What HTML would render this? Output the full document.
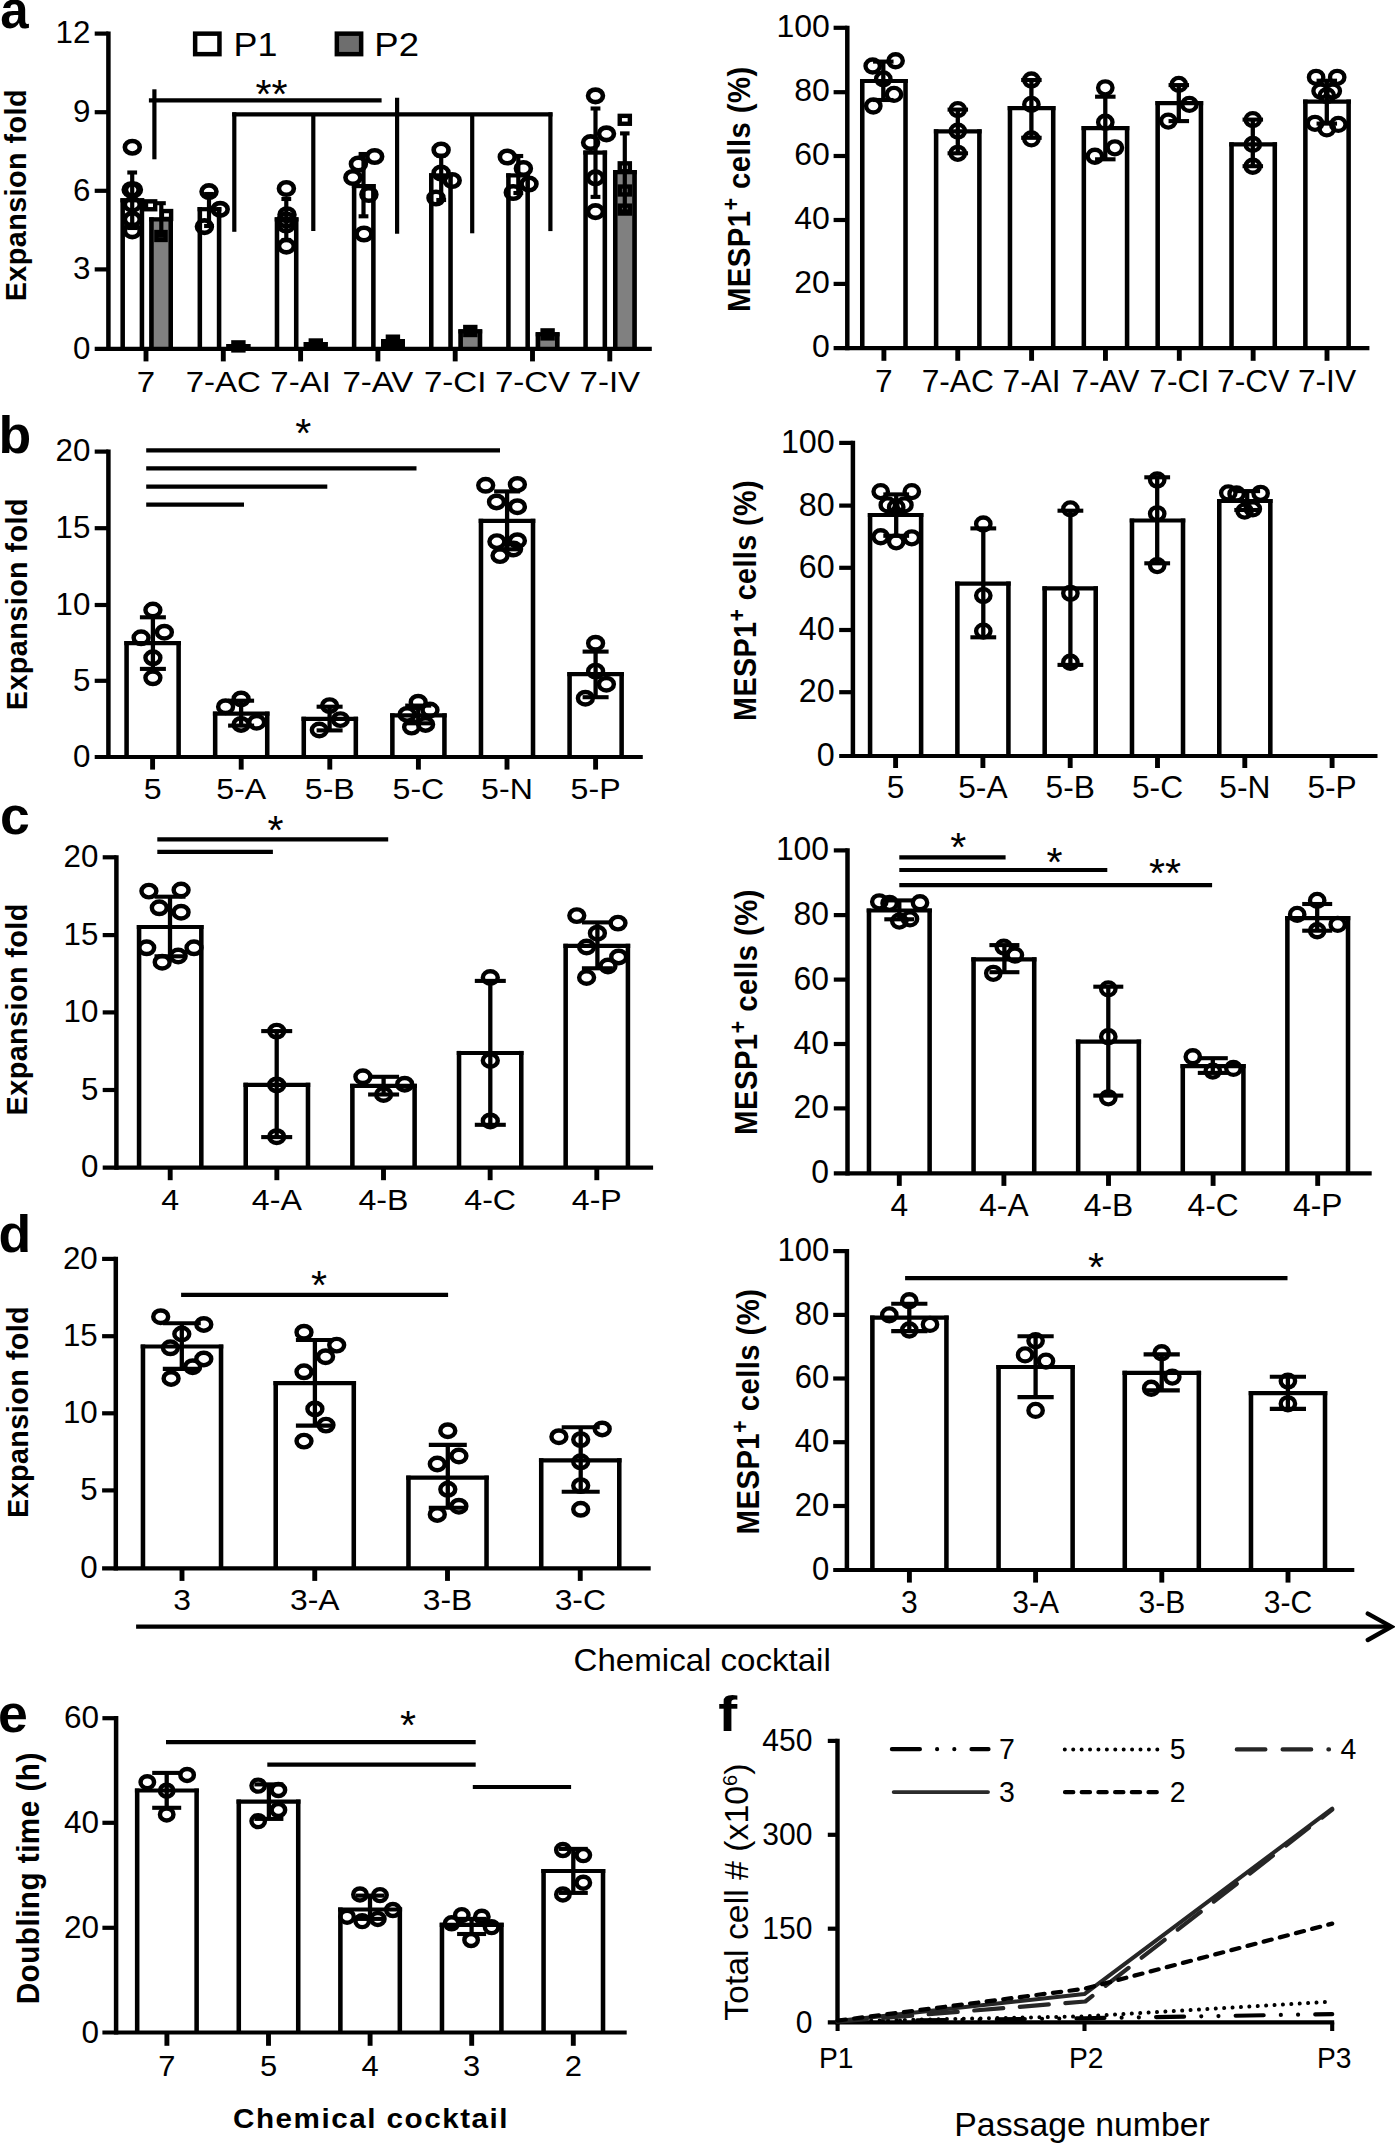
<!DOCTYPE html>
<html><head><meta charset="utf-8"><title>Figure</title>
<style>
html,body{margin:0;padding:0;background:#fff;}
body{width:1395px;height:2144px;overflow:hidden;}
svg{display:block;}
svg text{font-family:"Liberation Sans",sans-serif;fill:#000;}
</style></head><body>
<svg width="1395" height="2144" viewBox="0 0 1395 2144">
<rect x="0" y="0" width="1395" height="2144" fill="#fff"/>
<rect x="120.4" y="198.2" width="23.8" height="150.6" fill="#fff"/>
<line x1="122.68" y1="198.2" x2="122.68" y2="348.8" stroke="#000" stroke-width="4.55" stroke-linecap="butt" />
<line x1="141.93" y1="198.2" x2="141.93" y2="348.8" stroke="#000" stroke-width="4.55" stroke-linecap="butt" />
<line x1="120.4" y1="200.3" x2="144.2" y2="200.3" stroke="#000" stroke-width="4.2" stroke-linecap="butt" />
<rect x="197.55" y="207.1" width="23.8" height="141.7" fill="#fff"/>
<line x1="199.83" y1="207.1" x2="199.83" y2="348.8" stroke="#000" stroke-width="4.55" stroke-linecap="butt" />
<line x1="219.08" y1="207.1" x2="219.08" y2="348.8" stroke="#000" stroke-width="4.55" stroke-linecap="butt" />
<line x1="197.55" y1="209.2" x2="221.35" y2="209.2" stroke="#000" stroke-width="4.2" stroke-linecap="butt" />
<rect x="274.7" y="217.3" width="23.8" height="131.5" fill="#fff"/>
<line x1="276.98" y1="217.3" x2="276.98" y2="348.8" stroke="#000" stroke-width="4.55" stroke-linecap="butt" />
<line x1="296.23" y1="217.3" x2="296.23" y2="348.8" stroke="#000" stroke-width="4.55" stroke-linecap="butt" />
<line x1="274.7" y1="219.4" x2="298.5" y2="219.4" stroke="#000" stroke-width="4.2" stroke-linecap="butt" />
<rect x="351.85" y="184" width="23.8" height="164.8" fill="#fff"/>
<line x1="354.12" y1="184" x2="354.12" y2="348.8" stroke="#000" stroke-width="4.55" stroke-linecap="butt" />
<line x1="373.38" y1="184" x2="373.38" y2="348.8" stroke="#000" stroke-width="4.55" stroke-linecap="butt" />
<line x1="351.85" y1="186.1" x2="375.65" y2="186.1" stroke="#000" stroke-width="4.2" stroke-linecap="butt" />
<rect x="429" y="173.3" width="23.8" height="175.5" fill="#fff"/>
<line x1="431.27" y1="173.3" x2="431.27" y2="348.8" stroke="#000" stroke-width="4.55" stroke-linecap="butt" />
<line x1="450.53" y1="173.3" x2="450.53" y2="348.8" stroke="#000" stroke-width="4.55" stroke-linecap="butt" />
<line x1="429" y1="175.4" x2="452.8" y2="175.4" stroke="#000" stroke-width="4.2" stroke-linecap="butt" />
<rect x="506.15" y="173.3" width="23.8" height="175.5" fill="#fff"/>
<line x1="508.42" y1="173.3" x2="508.42" y2="348.8" stroke="#000" stroke-width="4.55" stroke-linecap="butt" />
<line x1="527.67" y1="173.3" x2="527.67" y2="348.8" stroke="#000" stroke-width="4.55" stroke-linecap="butt" />
<line x1="506.15" y1="175.4" x2="529.95" y2="175.4" stroke="#000" stroke-width="4.2" stroke-linecap="butt" />
<rect x="583.3" y="150.5" width="23.8" height="198.3" fill="#fff"/>
<line x1="585.58" y1="150.5" x2="585.58" y2="348.8" stroke="#000" stroke-width="4.55" stroke-linecap="butt" />
<line x1="604.83" y1="150.5" x2="604.83" y2="348.8" stroke="#000" stroke-width="4.55" stroke-linecap="butt" />
<line x1="583.3" y1="152.6" x2="607.1" y2="152.6" stroke="#000" stroke-width="4.2" stroke-linecap="butt" />
<rect x="149.2" y="217.3" width="23.8" height="131.5" fill="#808080"/>
<line x1="151.47" y1="217.3" x2="151.47" y2="348.8" stroke="#000" stroke-width="4.55" stroke-linecap="butt" />
<line x1="170.72" y1="217.3" x2="170.72" y2="348.8" stroke="#000" stroke-width="4.55" stroke-linecap="butt" />
<line x1="149.2" y1="219.4" x2="173" y2="219.4" stroke="#000" stroke-width="4.2" stroke-linecap="butt" />
<rect x="226.5" y="344" width="23.8" height="4.8" fill="#000"/>
<line x1="228.78" y1="344" x2="228.78" y2="348.8" stroke="#000" stroke-width="4.55" stroke-linecap="butt" />
<line x1="248.03" y1="344" x2="248.03" y2="348.8" stroke="#000" stroke-width="4.55" stroke-linecap="butt" />
<line x1="226.5" y1="346.1" x2="250.3" y2="346.1" stroke="#000" stroke-width="4.2" stroke-linecap="butt" />
<rect x="303.8" y="342" width="23.8" height="6.8" fill="#000"/>
<line x1="306.07" y1="342" x2="306.07" y2="348.8" stroke="#000" stroke-width="4.55" stroke-linecap="butt" />
<line x1="325.32" y1="342" x2="325.32" y2="348.8" stroke="#000" stroke-width="4.55" stroke-linecap="butt" />
<line x1="303.8" y1="344.1" x2="327.6" y2="344.1" stroke="#000" stroke-width="4.2" stroke-linecap="butt" />
<rect x="381.1" y="339" width="23.8" height="9.8" fill="#000"/>
<line x1="383.37" y1="339" x2="383.37" y2="348.8" stroke="#000" stroke-width="4.55" stroke-linecap="butt" />
<line x1="402.62" y1="339" x2="402.62" y2="348.8" stroke="#000" stroke-width="4.55" stroke-linecap="butt" />
<line x1="381.1" y1="341.1" x2="404.9" y2="341.1" stroke="#000" stroke-width="4.2" stroke-linecap="butt" />
<rect x="458.4" y="329.3" width="23.8" height="19.5" fill="#808080"/>
<line x1="460.67" y1="329.3" x2="460.67" y2="348.8" stroke="#000" stroke-width="4.55" stroke-linecap="butt" />
<line x1="479.93" y1="329.3" x2="479.93" y2="348.8" stroke="#000" stroke-width="4.55" stroke-linecap="butt" />
<line x1="458.4" y1="331.4" x2="482.2" y2="331.4" stroke="#000" stroke-width="4.2" stroke-linecap="butt" />
<rect x="535.7" y="332.2" width="23.8" height="16.6" fill="#808080"/>
<line x1="537.98" y1="332.2" x2="537.98" y2="348.8" stroke="#000" stroke-width="4.55" stroke-linecap="butt" />
<line x1="557.23" y1="332.2" x2="557.23" y2="348.8" stroke="#000" stroke-width="4.55" stroke-linecap="butt" />
<line x1="535.7" y1="334.3" x2="559.5" y2="334.3" stroke="#000" stroke-width="4.2" stroke-linecap="butt" />
<rect x="613" y="170.1" width="23.8" height="178.7" fill="#808080"/>
<line x1="615.27" y1="170.1" x2="615.27" y2="348.8" stroke="#000" stroke-width="4.55" stroke-linecap="butt" />
<line x1="634.52" y1="170.1" x2="634.52" y2="348.8" stroke="#000" stroke-width="4.55" stroke-linecap="butt" />
<line x1="613" y1="172.2" x2="636.8" y2="172.2" stroke="#000" stroke-width="4.2" stroke-linecap="butt" />
<rect x="231.2" y="340.2" width="14.4" height="12.4" fill="#000"/>
<rect x="308.6" y="338.3" width="14.4" height="12.4" fill="#000"/>
<rect x="385.7" y="334.5" width="14.4" height="12.4" fill="#000"/>
<rect x="463.1" y="324.8" width="14.4" height="12.4" fill="#000"/>
<rect x="540.4" y="328.2" width="14.4" height="12.4" fill="#000"/>
<line x1="132.2" y1="172.5" x2="132.2" y2="228" stroke="#000" stroke-width="4.2" stroke-linecap="butt" />
<line x1="127.3" y1="172.5" x2="137.1" y2="172.5" stroke="#000" stroke-width="4.1" stroke-linecap="butt" />
<line x1="127.3" y1="228" x2="137.1" y2="228" stroke="#000" stroke-width="4.1" stroke-linecap="butt" />
<line x1="209" y1="194" x2="209" y2="226" stroke="#000" stroke-width="4.2" stroke-linecap="butt" />
<line x1="204.1" y1="194" x2="213.9" y2="194" stroke="#000" stroke-width="4.1" stroke-linecap="butt" />
<line x1="204.1" y1="226" x2="213.9" y2="226" stroke="#000" stroke-width="4.1" stroke-linecap="butt" />
<line x1="286.3" y1="199" x2="286.3" y2="240" stroke="#000" stroke-width="4.2" stroke-linecap="butt" />
<line x1="281.4" y1="199" x2="291.2" y2="199" stroke="#000" stroke-width="4.1" stroke-linecap="butt" />
<line x1="281.4" y1="240" x2="291.2" y2="240" stroke="#000" stroke-width="4.1" stroke-linecap="butt" />
<line x1="363.5" y1="154" x2="363.5" y2="216.3" stroke="#000" stroke-width="4.2" stroke-linecap="butt" />
<line x1="358.6" y1="154" x2="368.4" y2="154" stroke="#000" stroke-width="4.1" stroke-linecap="butt" />
<line x1="358.6" y1="216.3" x2="368.4" y2="216.3" stroke="#000" stroke-width="4.1" stroke-linecap="butt" />
<line x1="441.2" y1="155.6" x2="441.2" y2="200" stroke="#000" stroke-width="4.2" stroke-linecap="butt" />
<line x1="436.3" y1="155.6" x2="446.1" y2="155.6" stroke="#000" stroke-width="4.1" stroke-linecap="butt" />
<line x1="436.3" y1="200" x2="446.1" y2="200" stroke="#000" stroke-width="4.1" stroke-linecap="butt" />
<line x1="518.3" y1="156" x2="518.3" y2="193" stroke="#000" stroke-width="4.2" stroke-linecap="butt" />
<line x1="513.4" y1="156" x2="523.2" y2="156" stroke="#000" stroke-width="4.1" stroke-linecap="butt" />
<line x1="513.4" y1="193" x2="523.2" y2="193" stroke="#000" stroke-width="4.1" stroke-linecap="butt" />
<line x1="595.5" y1="108.5" x2="595.5" y2="196.9" stroke="#000" stroke-width="4.2" stroke-linecap="butt" />
<line x1="590.6" y1="108.5" x2="600.4" y2="108.5" stroke="#000" stroke-width="4.1" stroke-linecap="butt" />
<line x1="590.6" y1="196.9" x2="600.4" y2="196.9" stroke="#000" stroke-width="4.1" stroke-linecap="butt" />
<line x1="161.3" y1="203.2" x2="161.3" y2="235.8" stroke="#000" stroke-width="4.2" stroke-linecap="butt" />
<line x1="156.8" y1="203.2" x2="165.8" y2="203.2" stroke="#000" stroke-width="4.1" stroke-linecap="butt" />
<line x1="156.8" y1="235.8" x2="165.8" y2="235.8" stroke="#000" stroke-width="4.1" stroke-linecap="butt" />
<line x1="624.8" y1="133.4" x2="624.8" y2="211.4" stroke="#000" stroke-width="4.2" stroke-linecap="butt" />
<line x1="620.05" y1="133.4" x2="629.55" y2="133.4" stroke="#000" stroke-width="4.1" stroke-linecap="butt" />
<line x1="620.05" y1="211.4" x2="629.55" y2="211.4" stroke="#000" stroke-width="4.1" stroke-linecap="butt" />
<ellipse cx="132.3" cy="147.2" rx="7.45" ry="6.25" fill="none" stroke="#000" stroke-width="4.65"/>
<ellipse cx="131.2" cy="189.8" rx="7.45" ry="6.25" fill="none" stroke="#000" stroke-width="4.65"/>
<ellipse cx="133.4" cy="189.8" rx="7.45" ry="6.25" fill="none" stroke="#000" stroke-width="4.65"/>
<ellipse cx="132.3" cy="204.4" rx="7.45" ry="6.25" fill="none" stroke="#000" stroke-width="4.65"/>
<ellipse cx="132.3" cy="219.3" rx="7.45" ry="6.25" fill="none" stroke="#000" stroke-width="4.65"/>
<ellipse cx="132.3" cy="230.8" rx="7.45" ry="6.25" fill="none" stroke="#000" stroke-width="4.65"/>
<ellipse cx="209" cy="191.6" rx="7.45" ry="6.25" fill="none" stroke="#000" stroke-width="4.65"/>
<ellipse cx="220.2" cy="209.3" rx="7.45" ry="6.25" fill="none" stroke="#000" stroke-width="4.65"/>
<ellipse cx="204.4" cy="226.6" rx="7.45" ry="6.25" fill="none" stroke="#000" stroke-width="4.65"/>
<ellipse cx="286.4" cy="188.5" rx="7.45" ry="6.25" fill="none" stroke="#000" stroke-width="4.65"/>
<ellipse cx="287" cy="214.7" rx="7.45" ry="6.25" fill="none" stroke="#000" stroke-width="4.65"/>
<ellipse cx="286.4" cy="220" rx="7.45" ry="6.25" fill="none" stroke="#000" stroke-width="4.65"/>
<ellipse cx="286.2" cy="225" rx="7.45" ry="6.25" fill="none" stroke="#000" stroke-width="4.65"/>
<ellipse cx="286.4" cy="246.1" rx="7.45" ry="6.25" fill="none" stroke="#000" stroke-width="4.65"/>
<ellipse cx="374.7" cy="156.5" rx="7.45" ry="6.25" fill="none" stroke="#000" stroke-width="4.65"/>
<ellipse cx="358.4" cy="164" rx="7.45" ry="6.25" fill="none" stroke="#000" stroke-width="4.65"/>
<ellipse cx="352.9" cy="177.5" rx="7.45" ry="6.25" fill="none" stroke="#000" stroke-width="4.65"/>
<ellipse cx="368.9" cy="194.5" rx="7.45" ry="6.25" fill="none" stroke="#000" stroke-width="4.65"/>
<ellipse cx="364" cy="234" rx="7.45" ry="6.25" fill="none" stroke="#000" stroke-width="4.65"/>
<ellipse cx="441.1" cy="150" rx="7.45" ry="6.25" fill="none" stroke="#000" stroke-width="4.65"/>
<ellipse cx="441.1" cy="173" rx="7.45" ry="6.25" fill="none" stroke="#000" stroke-width="4.65"/>
<ellipse cx="452.2" cy="180.5" rx="7.45" ry="6.25" fill="none" stroke="#000" stroke-width="4.65"/>
<ellipse cx="436" cy="198" rx="7.45" ry="6.25" fill="none" stroke="#000" stroke-width="4.65"/>
<ellipse cx="507.3" cy="157" rx="7.45" ry="6.25" fill="none" stroke="#000" stroke-width="4.65"/>
<ellipse cx="523.4" cy="168.5" rx="7.45" ry="6.25" fill="none" stroke="#000" stroke-width="4.65"/>
<ellipse cx="529" cy="184" rx="7.45" ry="6.25" fill="none" stroke="#000" stroke-width="4.65"/>
<ellipse cx="513.3" cy="192.5" rx="7.45" ry="6.25" fill="none" stroke="#000" stroke-width="4.65"/>
<ellipse cx="595.5" cy="95.8" rx="7.45" ry="6.25" fill="none" stroke="#000" stroke-width="4.65"/>
<ellipse cx="606.5" cy="133.8" rx="7.45" ry="6.25" fill="none" stroke="#000" stroke-width="4.65"/>
<ellipse cx="590.6" cy="142.6" rx="7.45" ry="6.25" fill="none" stroke="#000" stroke-width="4.65"/>
<ellipse cx="595.5" cy="177.9" rx="7.45" ry="6.25" fill="none" stroke="#000" stroke-width="4.65"/>
<ellipse cx="595.5" cy="211.6" rx="7.45" ry="6.25" fill="none" stroke="#000" stroke-width="4.65"/>
<rect x="146" y="201.35" width="9.2" height="7.9" fill="none" stroke="#000" stroke-width="4.4"/>
<rect x="161.9" y="211.05" width="9.2" height="7.9" fill="none" stroke="#000" stroke-width="4.4"/>
<rect x="156.4" y="232.05" width="9.2" height="7.9" fill="none" stroke="#000" stroke-width="4.4"/>
<rect x="619.75" y="115.85" width="10.1" height="7.9" fill="none" stroke="#000" stroke-width="4.4"/>
<rect x="619.75" y="163.35" width="10.1" height="7.9" fill="none" stroke="#000" stroke-width="4.4"/>
<rect x="619.75" y="186.55" width="10.1" height="7.9" fill="none" stroke="#000" stroke-width="4.4"/>
<rect x="619.75" y="205.65" width="10.1" height="7.9" fill="none" stroke="#000" stroke-width="4.4"/>
<line x1="148.9" y1="100.4" x2="381.6" y2="100.4" stroke="#000" stroke-width="4.2" stroke-linecap="butt" />
<line x1="154.4" y1="89.3" x2="154.4" y2="159.3" stroke="#000" stroke-width="4.2" stroke-linecap="butt" />
<line x1="232.2" y1="114.4" x2="552.5" y2="114.4" stroke="#000" stroke-width="4.2" stroke-linecap="butt" />
<line x1="234.3" y1="112.3" x2="234.3" y2="231.8" stroke="#000" stroke-width="4.2" stroke-linecap="butt" />
<line x1="313.3" y1="114" x2="313.3" y2="231" stroke="#000" stroke-width="4.2" stroke-linecap="butt" />
<line x1="397.1" y1="97.8" x2="397.1" y2="233.8" stroke="#000" stroke-width="4.2" stroke-linecap="butt" />
<line x1="472.2" y1="114" x2="472.2" y2="233.3" stroke="#000" stroke-width="4.2" stroke-linecap="butt" />
<line x1="550.4" y1="112.3" x2="550.4" y2="231.1" stroke="#000" stroke-width="4.2" stroke-linecap="butt" />
<text transform="translate(271.6,108.4) scale(1.03,1.0)" font-size="40" text-anchor="middle" font-weight="normal">**</text>
<line x1="108.4" y1="31.5" x2="108.4" y2="350.9" stroke="#000" stroke-width="4.5" stroke-linecap="butt" />
<line x1="94.7" y1="348.8" x2="651.8" y2="348.8" stroke="#000" stroke-width="4.2" stroke-linecap="butt" />
<line x1="94.7" y1="33.6" x2="108.4" y2="33.6" stroke="#000" stroke-width="4.2" stroke-linecap="butt" />
<text transform="translate(90.3,43.41)" font-size="31.3" text-anchor="end" font-weight="normal">12</text>
<line x1="94.7" y1="112.2" x2="108.4" y2="112.2" stroke="#000" stroke-width="4.2" stroke-linecap="butt" />
<text transform="translate(90.3,122.01)" font-size="31.3" text-anchor="end" font-weight="normal">9</text>
<line x1="94.7" y1="190.8" x2="108.4" y2="190.8" stroke="#000" stroke-width="4.2" stroke-linecap="butt" />
<text transform="translate(90.3,200.61)" font-size="31.3" text-anchor="end" font-weight="normal">6</text>
<line x1="94.7" y1="269.4" x2="108.4" y2="269.4" stroke="#000" stroke-width="4.2" stroke-linecap="butt" />
<text transform="translate(90.3,279.21)" font-size="31.3" text-anchor="end" font-weight="normal">3</text>
<text transform="translate(90.3,358.61)" font-size="31.3" text-anchor="end" font-weight="normal">0</text>
<line x1="146" y1="348.8" x2="146" y2="361.4" stroke="#000" stroke-width="4.9" stroke-linecap="butt" />
<text transform="translate(146,391.7) scale(1.09,1.0)" font-size="30.3" text-anchor="middle" font-weight="normal">7</text>
<line x1="223.3" y1="348.8" x2="223.3" y2="361.4" stroke="#000" stroke-width="4.9" stroke-linecap="butt" />
<text transform="translate(223.3,391.7) scale(1.09,1.0)" font-size="30.3" text-anchor="middle" font-weight="normal">7-AC</text>
<line x1="300.6" y1="348.8" x2="300.6" y2="361.4" stroke="#000" stroke-width="4.9" stroke-linecap="butt" />
<text transform="translate(300.6,391.7) scale(1.09,1.0)" font-size="30.3" text-anchor="middle" font-weight="normal">7-AI</text>
<line x1="377.9" y1="348.8" x2="377.9" y2="361.4" stroke="#000" stroke-width="4.9" stroke-linecap="butt" />
<text transform="translate(377.9,391.7) scale(1.09,1.0)" font-size="30.3" text-anchor="middle" font-weight="normal">7-AV</text>
<line x1="455.2" y1="348.8" x2="455.2" y2="361.4" stroke="#000" stroke-width="4.9" stroke-linecap="butt" />
<text transform="translate(455.2,391.7) scale(1.09,1.0)" font-size="30.3" text-anchor="middle" font-weight="normal">7-CI</text>
<line x1="532.5" y1="348.8" x2="532.5" y2="361.4" stroke="#000" stroke-width="4.9" stroke-linecap="butt" />
<text transform="translate(532.5,391.7) scale(1.09,1.0)" font-size="30.3" text-anchor="middle" font-weight="normal">7-CV</text>
<line x1="609.8" y1="348.8" x2="609.8" y2="361.4" stroke="#000" stroke-width="4.9" stroke-linecap="butt" />
<text transform="translate(609.8,391.7) scale(1.09,1.0)" font-size="30.3" text-anchor="middle" font-weight="normal">7-IV</text>
<rect x="195.15" y="33.65" width="24.3" height="20.5" fill="#fff" stroke="#000" stroke-width="4.5"/>
<rect x="336.85" y="33.65" width="24.3" height="20.5" fill="#6e6e6e" stroke="#000" stroke-width="4.5"/>
<text transform="translate(233.5,56.2) scale(1.07,1.0)" font-size="33.5" text-anchor="start" font-weight="normal">P1</text>
<text transform="translate(374.3,56.2) scale(1.09,1.0)" font-size="33.5" text-anchor="start" font-weight="normal">P2</text>
<text transform="translate(25.9,195.2) rotate(-90) scale(1.0,1.02)" font-size="28.75" text-anchor="middle" font-weight="bold" letter-spacing="0.45">Expansion fold</text>
<text transform="translate(0.2,28.2)" font-size="51" text-anchor="start" font-weight="bold">a</text>
<rect x="860" y="78.9" width="47.8" height="269.3" fill="#fff"/>
<line x1="862.27" y1="78.9" x2="862.27" y2="348.2" stroke="#000" stroke-width="4.55" stroke-linecap="butt" />
<line x1="905.52" y1="78.9" x2="905.52" y2="348.2" stroke="#000" stroke-width="4.55" stroke-linecap="butt" />
<line x1="860" y1="81" x2="907.8" y2="81" stroke="#000" stroke-width="4.2" stroke-linecap="butt" />
<rect x="933.85" y="129.3" width="47.8" height="218.9" fill="#fff"/>
<line x1="936.12" y1="129.3" x2="936.12" y2="348.2" stroke="#000" stroke-width="4.55" stroke-linecap="butt" />
<line x1="979.38" y1="129.3" x2="979.38" y2="348.2" stroke="#000" stroke-width="4.55" stroke-linecap="butt" />
<line x1="933.85" y1="131.4" x2="981.65" y2="131.4" stroke="#000" stroke-width="4.2" stroke-linecap="butt" />
<rect x="1007.7" y="106" width="47.8" height="242.2" fill="#fff"/>
<line x1="1009.97" y1="106" x2="1009.97" y2="348.2" stroke="#000" stroke-width="4.55" stroke-linecap="butt" />
<line x1="1053.22" y1="106" x2="1053.22" y2="348.2" stroke="#000" stroke-width="4.55" stroke-linecap="butt" />
<line x1="1007.7" y1="108.1" x2="1055.5" y2="108.1" stroke="#000" stroke-width="4.2" stroke-linecap="butt" />
<rect x="1081.55" y="126" width="47.8" height="222.2" fill="#fff"/>
<line x1="1083.83" y1="126" x2="1083.83" y2="348.2" stroke="#000" stroke-width="4.55" stroke-linecap="butt" />
<line x1="1127.08" y1="126" x2="1127.08" y2="348.2" stroke="#000" stroke-width="4.55" stroke-linecap="butt" />
<line x1="1081.55" y1="128.1" x2="1129.35" y2="128.1" stroke="#000" stroke-width="4.2" stroke-linecap="butt" />
<rect x="1155.4" y="101.1" width="47.8" height="247.1" fill="#fff"/>
<line x1="1157.67" y1="101.1" x2="1157.67" y2="348.2" stroke="#000" stroke-width="4.55" stroke-linecap="butt" />
<line x1="1200.92" y1="101.1" x2="1200.92" y2="348.2" stroke="#000" stroke-width="4.55" stroke-linecap="butt" />
<line x1="1155.4" y1="103.2" x2="1203.2" y2="103.2" stroke="#000" stroke-width="4.2" stroke-linecap="butt" />
<rect x="1229.25" y="142.2" width="47.8" height="206" fill="#fff"/>
<line x1="1231.53" y1="142.2" x2="1231.53" y2="348.2" stroke="#000" stroke-width="4.55" stroke-linecap="butt" />
<line x1="1274.78" y1="142.2" x2="1274.78" y2="348.2" stroke="#000" stroke-width="4.55" stroke-linecap="butt" />
<line x1="1229.25" y1="144.3" x2="1277.05" y2="144.3" stroke="#000" stroke-width="4.2" stroke-linecap="butt" />
<rect x="1303.1" y="99.6" width="47.8" height="248.6" fill="#fff"/>
<line x1="1305.38" y1="99.6" x2="1305.38" y2="348.2" stroke="#000" stroke-width="4.55" stroke-linecap="butt" />
<line x1="1348.62" y1="99.6" x2="1348.62" y2="348.2" stroke="#000" stroke-width="4.55" stroke-linecap="butt" />
<line x1="1303.1" y1="101.7" x2="1350.9" y2="101.7" stroke="#000" stroke-width="4.2" stroke-linecap="butt" />
<line x1="883.3" y1="61.6" x2="883.3" y2="100" stroke="#000" stroke-width="4.3" stroke-linecap="butt" />
<line x1="873.05" y1="61.6" x2="893.55" y2="61.6" stroke="#000" stroke-width="4.1" stroke-linecap="butt" />
<line x1="873.05" y1="100" x2="893.55" y2="100" stroke="#000" stroke-width="4.1" stroke-linecap="butt" />
<line x1="957.8" y1="109.6" x2="957.8" y2="153.3" stroke="#000" stroke-width="4.3" stroke-linecap="butt" />
<line x1="947.55" y1="109.6" x2="968.05" y2="109.6" stroke="#000" stroke-width="4.1" stroke-linecap="butt" />
<line x1="947.55" y1="153.3" x2="968.05" y2="153.3" stroke="#000" stroke-width="4.1" stroke-linecap="butt" />
<line x1="1031.4" y1="80" x2="1031.4" y2="137.8" stroke="#000" stroke-width="4.3" stroke-linecap="butt" />
<line x1="1021.15" y1="80" x2="1041.65" y2="80" stroke="#000" stroke-width="4.1" stroke-linecap="butt" />
<line x1="1021.15" y1="137.8" x2="1041.65" y2="137.8" stroke="#000" stroke-width="4.1" stroke-linecap="butt" />
<line x1="1105.3" y1="96.7" x2="1105.3" y2="159.3" stroke="#000" stroke-width="4.3" stroke-linecap="butt" />
<line x1="1095.05" y1="96.7" x2="1115.55" y2="96.7" stroke="#000" stroke-width="4.1" stroke-linecap="butt" />
<line x1="1095.05" y1="159.3" x2="1115.55" y2="159.3" stroke="#000" stroke-width="4.1" stroke-linecap="butt" />
<line x1="1178.8" y1="85.1" x2="1178.8" y2="121.1" stroke="#000" stroke-width="4.3" stroke-linecap="butt" />
<line x1="1168.55" y1="85.1" x2="1189.05" y2="85.1" stroke="#000" stroke-width="4.1" stroke-linecap="butt" />
<line x1="1168.55" y1="121.1" x2="1189.05" y2="121.1" stroke="#000" stroke-width="4.1" stroke-linecap="butt" />
<line x1="1252.8" y1="119.6" x2="1252.8" y2="166.2" stroke="#000" stroke-width="4.3" stroke-linecap="butt" />
<line x1="1242.55" y1="119.6" x2="1263.05" y2="119.6" stroke="#000" stroke-width="4.1" stroke-linecap="butt" />
<line x1="1242.55" y1="166.2" x2="1263.05" y2="166.2" stroke="#000" stroke-width="4.1" stroke-linecap="butt" />
<line x1="1326.8" y1="80.7" x2="1326.8" y2="123.6" stroke="#000" stroke-width="4.3" stroke-linecap="butt" />
<line x1="1316.55" y1="80.7" x2="1337.05" y2="80.7" stroke="#000" stroke-width="4.1" stroke-linecap="butt" />
<line x1="1316.55" y1="123.6" x2="1337.05" y2="123.6" stroke="#000" stroke-width="4.1" stroke-linecap="butt" />
<ellipse cx="872.7" cy="66" rx="7.2" ry="6.5" fill="none" stroke="#000" stroke-width="4.35"/>
<ellipse cx="895.6" cy="60.7" rx="7.2" ry="6.5" fill="none" stroke="#000" stroke-width="4.35"/>
<ellipse cx="883.3" cy="78.9" rx="7.2" ry="6.5" fill="none" stroke="#000" stroke-width="4.35"/>
<ellipse cx="894" cy="94.4" rx="7.2" ry="6.5" fill="none" stroke="#000" stroke-width="4.35"/>
<ellipse cx="873.3" cy="106" rx="7.2" ry="6.5" fill="none" stroke="#000" stroke-width="4.35"/>
<ellipse cx="957.8" cy="109.6" rx="7.2" ry="6.5" fill="none" stroke="#000" stroke-width="4.35"/>
<ellipse cx="957.8" cy="131.1" rx="7.2" ry="6.5" fill="none" stroke="#000" stroke-width="4.35"/>
<ellipse cx="957.8" cy="153.3" rx="7.2" ry="6.5" fill="none" stroke="#000" stroke-width="4.35"/>
<ellipse cx="1031.4" cy="80" rx="7.2" ry="6.5" fill="none" stroke="#000" stroke-width="4.35"/>
<ellipse cx="1031.4" cy="104.4" rx="7.2" ry="6.5" fill="none" stroke="#000" stroke-width="4.35"/>
<ellipse cx="1031.4" cy="138.9" rx="7.2" ry="6.5" fill="none" stroke="#000" stroke-width="4.35"/>
<ellipse cx="1105.3" cy="87.8" rx="7.2" ry="6.5" fill="none" stroke="#000" stroke-width="4.35"/>
<ellipse cx="1105.3" cy="122.2" rx="7.2" ry="6.5" fill="none" stroke="#000" stroke-width="4.35"/>
<ellipse cx="1114.9" cy="147.8" rx="7.2" ry="6.5" fill="none" stroke="#000" stroke-width="4.35"/>
<ellipse cx="1094.9" cy="156.2" rx="7.2" ry="6.5" fill="none" stroke="#000" stroke-width="4.35"/>
<ellipse cx="1178.8" cy="84.4" rx="7.2" ry="6.5" fill="none" stroke="#000" stroke-width="4.35"/>
<ellipse cx="1189.4" cy="104.4" rx="7.2" ry="6.5" fill="none" stroke="#000" stroke-width="4.35"/>
<ellipse cx="1168.3" cy="121.1" rx="7.2" ry="6.5" fill="none" stroke="#000" stroke-width="4.35"/>
<ellipse cx="1252.8" cy="119.6" rx="7.2" ry="6.5" fill="none" stroke="#000" stroke-width="4.35"/>
<ellipse cx="1252.8" cy="144.4" rx="7.2" ry="6.5" fill="none" stroke="#000" stroke-width="4.35"/>
<ellipse cx="1252.8" cy="166.2" rx="7.2" ry="6.5" fill="none" stroke="#000" stroke-width="4.35"/>
<ellipse cx="1316.1" cy="77.3" rx="7.2" ry="6.5" fill="none" stroke="#000" stroke-width="4.35"/>
<ellipse cx="1337.2" cy="77.3" rx="7.2" ry="6.5" fill="none" stroke="#000" stroke-width="4.35"/>
<ellipse cx="1320.6" cy="91.1" rx="7.2" ry="6.5" fill="none" stroke="#000" stroke-width="4.35"/>
<ellipse cx="1332.8" cy="91.1" rx="7.2" ry="6.5" fill="none" stroke="#000" stroke-width="4.35"/>
<ellipse cx="1326.8" cy="95.6" rx="7.2" ry="6.5" fill="none" stroke="#000" stroke-width="4.35"/>
<ellipse cx="1315" cy="123.3" rx="7.2" ry="6.5" fill="none" stroke="#000" stroke-width="4.35"/>
<ellipse cx="1326.8" cy="128.9" rx="7.2" ry="6.5" fill="none" stroke="#000" stroke-width="4.35"/>
<ellipse cx="1338.3" cy="124.4" rx="7.2" ry="6.5" fill="none" stroke="#000" stroke-width="4.35"/>
<line x1="847.3" y1="25.7" x2="847.3" y2="350.3" stroke="#000" stroke-width="4.5" stroke-linecap="butt" />
<line x1="833.6" y1="348.2" x2="1369.4" y2="348.2" stroke="#000" stroke-width="4.2" stroke-linecap="butt" />
<line x1="833.6" y1="27.8" x2="847.3" y2="27.8" stroke="#000" stroke-width="4.2" stroke-linecap="butt" />
<text transform="translate(829.8,37.06)" font-size="32" text-anchor="end" font-weight="normal">100</text>
<line x1="833.6" y1="92.2" x2="847.3" y2="92.2" stroke="#000" stroke-width="4.2" stroke-linecap="butt" />
<text transform="translate(829.8,101.46)" font-size="32" text-anchor="end" font-weight="normal">80</text>
<line x1="833.6" y1="156" x2="847.3" y2="156" stroke="#000" stroke-width="4.2" stroke-linecap="butt" />
<text transform="translate(829.8,165.26)" font-size="32" text-anchor="end" font-weight="normal">60</text>
<line x1="833.6" y1="220" x2="847.3" y2="220" stroke="#000" stroke-width="4.2" stroke-linecap="butt" />
<text transform="translate(829.8,229.26)" font-size="32" text-anchor="end" font-weight="normal">40</text>
<line x1="833.6" y1="283.9" x2="847.3" y2="283.9" stroke="#000" stroke-width="4.2" stroke-linecap="butt" />
<text transform="translate(829.8,293.16)" font-size="32" text-anchor="end" font-weight="normal">20</text>
<text transform="translate(829.8,357.46)" font-size="32" text-anchor="end" font-weight="normal">0</text>
<line x1="883.9" y1="348.2" x2="883.9" y2="360.8" stroke="#000" stroke-width="4.9" stroke-linecap="butt" />
<text transform="translate(883.9,392.3) scale(1.03,1.0)" font-size="30.8" text-anchor="middle" font-weight="normal">7</text>
<line x1="957.75" y1="348.2" x2="957.75" y2="360.8" stroke="#000" stroke-width="4.9" stroke-linecap="butt" />
<text transform="translate(957.75,392.3) scale(1.03,1.0)" font-size="30.8" text-anchor="middle" font-weight="normal">7-AC</text>
<line x1="1031.6" y1="348.2" x2="1031.6" y2="360.8" stroke="#000" stroke-width="4.9" stroke-linecap="butt" />
<text transform="translate(1031.6,392.3) scale(1.03,1.0)" font-size="30.8" text-anchor="middle" font-weight="normal">7-AI</text>
<line x1="1105.45" y1="348.2" x2="1105.45" y2="360.8" stroke="#000" stroke-width="4.9" stroke-linecap="butt" />
<text transform="translate(1105.45,392.3) scale(1.03,1.0)" font-size="30.8" text-anchor="middle" font-weight="normal">7-AV</text>
<line x1="1179.3" y1="348.2" x2="1179.3" y2="360.8" stroke="#000" stroke-width="4.9" stroke-linecap="butt" />
<text transform="translate(1179.3,392.3) scale(1.03,1.0)" font-size="30.8" text-anchor="middle" font-weight="normal">7-CI</text>
<line x1="1253.15" y1="348.2" x2="1253.15" y2="360.8" stroke="#000" stroke-width="4.9" stroke-linecap="butt" />
<text transform="translate(1253.15,392.3) scale(1.03,1.0)" font-size="30.8" text-anchor="middle" font-weight="normal">7-CV</text>
<line x1="1327" y1="348.2" x2="1327" y2="360.8" stroke="#000" stroke-width="4.9" stroke-linecap="butt" />
<text transform="translate(1327,392.3) scale(1.03,1.0)" font-size="30.8" text-anchor="middle" font-weight="normal">7-IV</text>
<text transform="translate(750.3,189.2) rotate(-90) scale(1.0,1.068)" font-size="29.35" text-anchor="middle" font-weight="bold" letter-spacing="0.4">MESP1<tspan font-size="21.72" dy="-10.57">+</tspan><tspan dy="10.57"> cells (%)</tspan></text>
<rect x="124.3" y="641.1" width="56.6" height="115.9" fill="#fff"/>
<line x1="126.58" y1="641.1" x2="126.58" y2="757" stroke="#000" stroke-width="4.55" stroke-linecap="butt" />
<line x1="178.62" y1="641.1" x2="178.62" y2="757" stroke="#000" stroke-width="4.55" stroke-linecap="butt" />
<line x1="124.3" y1="643.2" x2="180.9" y2="643.2" stroke="#000" stroke-width="4.2" stroke-linecap="butt" />
<rect x="212.9" y="711.6" width="56.6" height="45.4" fill="#fff"/>
<line x1="215.17" y1="711.6" x2="215.17" y2="757" stroke="#000" stroke-width="4.55" stroke-linecap="butt" />
<line x1="267.23" y1="711.6" x2="267.23" y2="757" stroke="#000" stroke-width="4.55" stroke-linecap="butt" />
<line x1="212.9" y1="713.7" x2="269.5" y2="713.7" stroke="#000" stroke-width="4.2" stroke-linecap="butt" />
<rect x="301.5" y="716.7" width="56.6" height="40.3" fill="#fff"/>
<line x1="303.77" y1="716.7" x2="303.77" y2="757" stroke="#000" stroke-width="4.55" stroke-linecap="butt" />
<line x1="355.82" y1="716.7" x2="355.82" y2="757" stroke="#000" stroke-width="4.55" stroke-linecap="butt" />
<line x1="301.5" y1="718.8" x2="358.1" y2="718.8" stroke="#000" stroke-width="4.2" stroke-linecap="butt" />
<rect x="390.1" y="713.3" width="56.6" height="43.7" fill="#fff"/>
<line x1="392.37" y1="713.3" x2="392.37" y2="757" stroke="#000" stroke-width="4.55" stroke-linecap="butt" />
<line x1="444.43" y1="713.3" x2="444.43" y2="757" stroke="#000" stroke-width="4.55" stroke-linecap="butt" />
<line x1="390.1" y1="715.4" x2="446.7" y2="715.4" stroke="#000" stroke-width="4.2" stroke-linecap="butt" />
<rect x="478.7" y="518.7" width="56.6" height="238.3" fill="#fff"/>
<line x1="480.97" y1="518.7" x2="480.97" y2="757" stroke="#000" stroke-width="4.55" stroke-linecap="butt" />
<line x1="533.02" y1="518.7" x2="533.02" y2="757" stroke="#000" stroke-width="4.55" stroke-linecap="butt" />
<line x1="478.7" y1="520.8" x2="535.3" y2="520.8" stroke="#000" stroke-width="4.2" stroke-linecap="butt" />
<rect x="567.3" y="672.1" width="56.6" height="84.9" fill="#fff"/>
<line x1="569.58" y1="672.1" x2="569.58" y2="757" stroke="#000" stroke-width="4.55" stroke-linecap="butt" />
<line x1="621.62" y1="672.1" x2="621.62" y2="757" stroke="#000" stroke-width="4.55" stroke-linecap="butt" />
<line x1="567.3" y1="674.2" x2="623.9" y2="674.2" stroke="#000" stroke-width="4.2" stroke-linecap="butt" />
<line x1="152.9" y1="617.3" x2="152.9" y2="668.9" stroke="#000" stroke-width="4.3" stroke-linecap="butt" />
<line x1="139.9" y1="617.3" x2="165.9" y2="617.3" stroke="#000" stroke-width="4.1" stroke-linecap="butt" />
<line x1="139.9" y1="668.9" x2="165.9" y2="668.9" stroke="#000" stroke-width="4.1" stroke-linecap="butt" />
<line x1="241.1" y1="700.7" x2="241.1" y2="725.6" stroke="#000" stroke-width="4.3" stroke-linecap="butt" />
<line x1="228.1" y1="700.7" x2="254.1" y2="700.7" stroke="#000" stroke-width="4.1" stroke-linecap="butt" />
<line x1="228.1" y1="725.6" x2="254.1" y2="725.6" stroke="#000" stroke-width="4.1" stroke-linecap="butt" />
<line x1="329.6" y1="706.7" x2="329.6" y2="730.4" stroke="#000" stroke-width="4.3" stroke-linecap="butt" />
<line x1="316.6" y1="706.7" x2="342.6" y2="706.7" stroke="#000" stroke-width="4.1" stroke-linecap="butt" />
<line x1="316.6" y1="730.4" x2="342.6" y2="730.4" stroke="#000" stroke-width="4.1" stroke-linecap="butt" />
<line x1="418.2" y1="705.6" x2="418.2" y2="723.3" stroke="#000" stroke-width="4.3" stroke-linecap="butt" />
<line x1="405.2" y1="705.6" x2="431.2" y2="705.6" stroke="#000" stroke-width="4.1" stroke-linecap="butt" />
<line x1="405.2" y1="723.3" x2="431.2" y2="723.3" stroke="#000" stroke-width="4.1" stroke-linecap="butt" />
<line x1="507.1" y1="491.4" x2="507.1" y2="549.3" stroke="#000" stroke-width="4.3" stroke-linecap="butt" />
<line x1="494.1" y1="491.4" x2="520.1" y2="491.4" stroke="#000" stroke-width="4.1" stroke-linecap="butt" />
<line x1="494.1" y1="549.3" x2="520.1" y2="549.3" stroke="#000" stroke-width="4.1" stroke-linecap="butt" />
<line x1="595.6" y1="651.6" x2="595.6" y2="697.2" stroke="#000" stroke-width="4.3" stroke-linecap="butt" />
<line x1="582.6" y1="651.6" x2="608.6" y2="651.6" stroke="#000" stroke-width="4.1" stroke-linecap="butt" />
<line x1="582.6" y1="697.2" x2="608.6" y2="697.2" stroke="#000" stroke-width="4.1" stroke-linecap="butt" />
<ellipse cx="152.9" cy="610" rx="7.45" ry="6.25" fill="none" stroke="#000" stroke-width="4.45"/>
<ellipse cx="164.4" cy="632.2" rx="7.45" ry="6.25" fill="none" stroke="#000" stroke-width="4.45"/>
<ellipse cx="141.1" cy="637.8" rx="7.45" ry="6.25" fill="none" stroke="#000" stroke-width="4.45"/>
<ellipse cx="152.9" cy="657.8" rx="7.45" ry="6.25" fill="none" stroke="#000" stroke-width="4.45"/>
<ellipse cx="152.9" cy="677.8" rx="7.45" ry="6.25" fill="none" stroke="#000" stroke-width="4.45"/>
<ellipse cx="241.1" cy="698.9" rx="7.45" ry="6.25" fill="none" stroke="#000" stroke-width="4.45"/>
<ellipse cx="225.6" cy="706.7" rx="7.45" ry="6.25" fill="none" stroke="#000" stroke-width="4.45"/>
<ellipse cx="241.1" cy="724.4" rx="7.45" ry="6.25" fill="none" stroke="#000" stroke-width="4.45"/>
<ellipse cx="256.7" cy="722.2" rx="7.45" ry="6.25" fill="none" stroke="#000" stroke-width="4.45"/>
<ellipse cx="329.6" cy="705.6" rx="7.45" ry="6.25" fill="none" stroke="#000" stroke-width="4.45"/>
<ellipse cx="340.4" cy="719.6" rx="7.45" ry="6.25" fill="none" stroke="#000" stroke-width="4.45"/>
<ellipse cx="319.3" cy="730" rx="7.45" ry="6.25" fill="none" stroke="#000" stroke-width="4.45"/>
<ellipse cx="418.2" cy="702.2" rx="7.45" ry="6.25" fill="none" stroke="#000" stroke-width="4.45"/>
<ellipse cx="430" cy="710" rx="7.45" ry="6.25" fill="none" stroke="#000" stroke-width="4.45"/>
<ellipse cx="407.1" cy="714.4" rx="7.45" ry="6.25" fill="none" stroke="#000" stroke-width="4.45"/>
<ellipse cx="425.6" cy="724.4" rx="7.45" ry="6.25" fill="none" stroke="#000" stroke-width="4.45"/>
<ellipse cx="411.6" cy="727.1" rx="7.45" ry="6.25" fill="none" stroke="#000" stroke-width="4.45"/>
<ellipse cx="485.7" cy="485.3" rx="7.45" ry="6.25" fill="none" stroke="#000" stroke-width="4.45"/>
<ellipse cx="517.4" cy="484.4" rx="7.45" ry="6.25" fill="none" stroke="#000" stroke-width="4.45"/>
<ellipse cx="496.5" cy="501.9" rx="7.45" ry="6.25" fill="none" stroke="#000" stroke-width="4.45"/>
<ellipse cx="517.4" cy="506.7" rx="7.45" ry="6.25" fill="none" stroke="#000" stroke-width="4.45"/>
<ellipse cx="496.9" cy="541.6" rx="7.45" ry="6.25" fill="none" stroke="#000" stroke-width="4.45"/>
<ellipse cx="517.4" cy="540.7" rx="7.45" ry="6.25" fill="none" stroke="#000" stroke-width="4.45"/>
<ellipse cx="513.6" cy="549" rx="7.45" ry="6.25" fill="none" stroke="#000" stroke-width="4.45"/>
<ellipse cx="500" cy="555.6" rx="7.45" ry="6.25" fill="none" stroke="#000" stroke-width="4.45"/>
<ellipse cx="595.6" cy="643.2" rx="7.45" ry="6.25" fill="none" stroke="#000" stroke-width="4.45"/>
<ellipse cx="595.6" cy="671.1" rx="7.45" ry="6.25" fill="none" stroke="#000" stroke-width="4.45"/>
<ellipse cx="606.4" cy="684.2" rx="7.45" ry="6.25" fill="none" stroke="#000" stroke-width="4.45"/>
<ellipse cx="585.4" cy="698.2" rx="7.45" ry="6.25" fill="none" stroke="#000" stroke-width="4.45"/>
<line x1="146.2" y1="450.4" x2="500" y2="450.4" stroke="#000" stroke-width="4.2" stroke-linecap="butt" />
<line x1="146.2" y1="468.4" x2="416.5" y2="468.4" stroke="#000" stroke-width="4.2" stroke-linecap="butt" />
<line x1="146.2" y1="486.7" x2="327.3" y2="486.7" stroke="#000" stroke-width="4.2" stroke-linecap="butt" />
<line x1="146.2" y1="504.7" x2="244" y2="504.7" stroke="#000" stroke-width="4.2" stroke-linecap="butt" />
<text transform="translate(303.3,446.7) scale(1.03,1.0)" font-size="40" text-anchor="middle" font-weight="normal">*</text>
<line x1="108.4" y1="449.5" x2="108.4" y2="759.1" stroke="#000" stroke-width="4.5" stroke-linecap="butt" />
<line x1="94.7" y1="757" x2="642.8" y2="757" stroke="#000" stroke-width="4.2" stroke-linecap="butt" />
<line x1="94.7" y1="451.6" x2="108.4" y2="451.6" stroke="#000" stroke-width="4.2" stroke-linecap="butt" />
<text transform="translate(90.3,461.41)" font-size="31.3" text-anchor="end" font-weight="normal">20</text>
<line x1="94.7" y1="528.2" x2="108.4" y2="528.2" stroke="#000" stroke-width="4.2" stroke-linecap="butt" />
<text transform="translate(90.3,538.01)" font-size="31.3" text-anchor="end" font-weight="normal">15</text>
<line x1="94.7" y1="605" x2="108.4" y2="605" stroke="#000" stroke-width="4.2" stroke-linecap="butt" />
<text transform="translate(90.3,614.81)" font-size="31.3" text-anchor="end" font-weight="normal">10</text>
<line x1="94.7" y1="680.8" x2="108.4" y2="680.8" stroke="#000" stroke-width="4.2" stroke-linecap="butt" />
<text transform="translate(90.3,690.61)" font-size="31.3" text-anchor="end" font-weight="normal">5</text>
<text transform="translate(90.3,766.81)" font-size="31.3" text-anchor="end" font-weight="normal">0</text>
<line x1="152.6" y1="757" x2="152.6" y2="769.6" stroke="#000" stroke-width="4.9" stroke-linecap="butt" />
<text transform="translate(152.6,798.6) scale(1.06,1.0)" font-size="30.3" text-anchor="middle" font-weight="normal">5</text>
<line x1="241.2" y1="757" x2="241.2" y2="769.6" stroke="#000" stroke-width="4.9" stroke-linecap="butt" />
<text transform="translate(241.2,798.6) scale(1.06,1.0)" font-size="30.3" text-anchor="middle" font-weight="normal">5-A</text>
<line x1="329.8" y1="757" x2="329.8" y2="769.6" stroke="#000" stroke-width="4.9" stroke-linecap="butt" />
<text transform="translate(329.8,798.6) scale(1.06,1.0)" font-size="30.3" text-anchor="middle" font-weight="normal">5-B</text>
<line x1="418.4" y1="757" x2="418.4" y2="769.6" stroke="#000" stroke-width="4.9" stroke-linecap="butt" />
<text transform="translate(418.4,798.6) scale(1.06,1.0)" font-size="30.3" text-anchor="middle" font-weight="normal">5-C</text>
<line x1="507" y1="757" x2="507" y2="769.6" stroke="#000" stroke-width="4.9" stroke-linecap="butt" />
<text transform="translate(507,798.6) scale(1.06,1.0)" font-size="30.3" text-anchor="middle" font-weight="normal">5-N</text>
<line x1="595.6" y1="757" x2="595.6" y2="769.6" stroke="#000" stroke-width="4.9" stroke-linecap="butt" />
<text transform="translate(595.6,798.6) scale(1.06,1.0)" font-size="30.3" text-anchor="middle" font-weight="normal">5-P</text>
<text transform="translate(26.6,604.1) rotate(-90) scale(1.0,1.02)" font-size="28.75" text-anchor="middle" font-weight="bold" letter-spacing="0.45">Expansion fold</text>
<text transform="translate(-1.5,452.9) scale(1.05,1.0)" font-size="51" text-anchor="start" font-weight="bold">b</text>
<rect x="867.8" y="512.9" width="55.6" height="243.1" fill="#fff"/>
<line x1="870.08" y1="512.9" x2="870.08" y2="756" stroke="#000" stroke-width="4.55" stroke-linecap="butt" />
<line x1="921.12" y1="512.9" x2="921.12" y2="756" stroke="#000" stroke-width="4.55" stroke-linecap="butt" />
<line x1="867.8" y1="515" x2="923.4" y2="515" stroke="#000" stroke-width="4.2" stroke-linecap="butt" />
<rect x="955.1" y="581.6" width="55.6" height="174.4" fill="#fff"/>
<line x1="957.38" y1="581.6" x2="957.38" y2="756" stroke="#000" stroke-width="4.55" stroke-linecap="butt" />
<line x1="1008.42" y1="581.6" x2="1008.42" y2="756" stroke="#000" stroke-width="4.55" stroke-linecap="butt" />
<line x1="955.1" y1="583.7" x2="1010.7" y2="583.7" stroke="#000" stroke-width="4.2" stroke-linecap="butt" />
<rect x="1042.4" y="586.2" width="55.6" height="169.8" fill="#fff"/>
<line x1="1044.68" y1="586.2" x2="1044.68" y2="756" stroke="#000" stroke-width="4.55" stroke-linecap="butt" />
<line x1="1095.72" y1="586.2" x2="1095.72" y2="756" stroke="#000" stroke-width="4.55" stroke-linecap="butt" />
<line x1="1042.4" y1="588.3" x2="1098" y2="588.3" stroke="#000" stroke-width="4.2" stroke-linecap="butt" />
<rect x="1129.7" y="518.4" width="55.6" height="237.6" fill="#fff"/>
<line x1="1131.98" y1="518.4" x2="1131.98" y2="756" stroke="#000" stroke-width="4.55" stroke-linecap="butt" />
<line x1="1183.02" y1="518.4" x2="1183.02" y2="756" stroke="#000" stroke-width="4.55" stroke-linecap="butt" />
<line x1="1129.7" y1="520.5" x2="1185.3" y2="520.5" stroke="#000" stroke-width="4.2" stroke-linecap="butt" />
<rect x="1217" y="498.9" width="55.6" height="257.1" fill="#fff"/>
<line x1="1219.28" y1="498.9" x2="1219.28" y2="756" stroke="#000" stroke-width="4.55" stroke-linecap="butt" />
<line x1="1270.32" y1="498.9" x2="1270.32" y2="756" stroke="#000" stroke-width="4.55" stroke-linecap="butt" />
<line x1="1217" y1="501" x2="1272.6" y2="501" stroke="#000" stroke-width="4.2" stroke-linecap="butt" />
<line x1="896.2" y1="494.4" x2="896.2" y2="535.8" stroke="#000" stroke-width="4.3" stroke-linecap="butt" />
<line x1="883.3" y1="494.4" x2="909.1" y2="494.4" stroke="#000" stroke-width="4.1" stroke-linecap="butt" />
<line x1="883.3" y1="535.8" x2="909.1" y2="535.8" stroke="#000" stroke-width="4.1" stroke-linecap="butt" />
<line x1="983.3" y1="528.4" x2="983.3" y2="637.3" stroke="#000" stroke-width="4.3" stroke-linecap="butt" />
<line x1="970.4" y1="528.4" x2="996.2" y2="528.4" stroke="#000" stroke-width="4.1" stroke-linecap="butt" />
<line x1="970.4" y1="637.3" x2="996.2" y2="637.3" stroke="#000" stroke-width="4.1" stroke-linecap="butt" />
<line x1="1070.4" y1="510.7" x2="1070.4" y2="664.9" stroke="#000" stroke-width="4.3" stroke-linecap="butt" />
<line x1="1057.5" y1="510.7" x2="1083.3" y2="510.7" stroke="#000" stroke-width="4.1" stroke-linecap="butt" />
<line x1="1057.5" y1="664.9" x2="1083.3" y2="664.9" stroke="#000" stroke-width="4.1" stroke-linecap="butt" />
<line x1="1157.2" y1="477.3" x2="1157.2" y2="563.3" stroke="#000" stroke-width="4.3" stroke-linecap="butt" />
<line x1="1144.3" y1="477.3" x2="1170.1" y2="477.3" stroke="#000" stroke-width="4.1" stroke-linecap="butt" />
<line x1="1144.3" y1="563.3" x2="1170.1" y2="563.3" stroke="#000" stroke-width="4.1" stroke-linecap="butt" />
<line x1="1247.2" y1="491.1" x2="1247.2" y2="510" stroke="#000" stroke-width="4.3" stroke-linecap="butt" />
<line x1="1234.3" y1="491.1" x2="1260.1" y2="491.1" stroke="#000" stroke-width="4.1" stroke-linecap="butt" />
<line x1="1234.3" y1="510" x2="1260.1" y2="510" stroke="#000" stroke-width="4.1" stroke-linecap="butt" />
<ellipse cx="880.7" cy="491.6" rx="7.2" ry="6.5" fill="none" stroke="#000" stroke-width="4.35"/>
<ellipse cx="911.8" cy="491.6" rx="7.2" ry="6.5" fill="none" stroke="#000" stroke-width="4.35"/>
<ellipse cx="887.8" cy="504.9" rx="7.2" ry="6.5" fill="none" stroke="#000" stroke-width="4.35"/>
<ellipse cx="904.4" cy="504.9" rx="7.2" ry="6.5" fill="none" stroke="#000" stroke-width="4.35"/>
<ellipse cx="896.2" cy="507.1" rx="7.2" ry="6.5" fill="none" stroke="#000" stroke-width="4.35"/>
<ellipse cx="880.7" cy="536.7" rx="7.2" ry="6.5" fill="none" stroke="#000" stroke-width="4.35"/>
<ellipse cx="896.2" cy="541.8" rx="7.2" ry="6.5" fill="none" stroke="#000" stroke-width="4.35"/>
<ellipse cx="911.8" cy="537.8" rx="7.2" ry="6.5" fill="none" stroke="#000" stroke-width="4.35"/>
<ellipse cx="983.3" cy="524" rx="7.2" ry="6.5" fill="none" stroke="#000" stroke-width="4.35"/>
<ellipse cx="983.3" cy="595.6" rx="7.2" ry="6.5" fill="none" stroke="#000" stroke-width="4.35"/>
<ellipse cx="983.3" cy="631.1" rx="7.2" ry="6.5" fill="none" stroke="#000" stroke-width="4.35"/>
<ellipse cx="1070.4" cy="508.9" rx="7.2" ry="6.5" fill="none" stroke="#000" stroke-width="4.35"/>
<ellipse cx="1070.4" cy="593.3" rx="7.2" ry="6.5" fill="none" stroke="#000" stroke-width="4.35"/>
<ellipse cx="1070.4" cy="662.2" rx="7.2" ry="6.5" fill="none" stroke="#000" stroke-width="4.35"/>
<ellipse cx="1157.2" cy="480" rx="7.2" ry="6.5" fill="none" stroke="#000" stroke-width="4.35"/>
<ellipse cx="1157.2" cy="513.8" rx="7.2" ry="6.5" fill="none" stroke="#000" stroke-width="4.35"/>
<ellipse cx="1157.2" cy="565.6" rx="7.2" ry="6.5" fill="none" stroke="#000" stroke-width="4.35"/>
<ellipse cx="1228.3" cy="492.9" rx="7.2" ry="6.5" fill="none" stroke="#000" stroke-width="4.35"/>
<ellipse cx="1236.6" cy="494" rx="7.2" ry="6.5" fill="none" stroke="#000" stroke-width="4.35"/>
<ellipse cx="1260.6" cy="493.3" rx="7.2" ry="6.5" fill="none" stroke="#000" stroke-width="4.35"/>
<ellipse cx="1252.8" cy="508.9" rx="7.2" ry="6.5" fill="none" stroke="#000" stroke-width="4.35"/>
<ellipse cx="1244.6" cy="511.1" rx="7.2" ry="6.5" fill="none" stroke="#000" stroke-width="4.35"/>
<line x1="852.9" y1="440.8" x2="852.9" y2="758.1" stroke="#000" stroke-width="4.5" stroke-linecap="butt" />
<line x1="839.2" y1="756" x2="1377.5" y2="756" stroke="#000" stroke-width="4.2" stroke-linecap="butt" />
<line x1="839.2" y1="442.9" x2="852.9" y2="442.9" stroke="#000" stroke-width="4.2" stroke-linecap="butt" />
<text transform="translate(834.8,453.16)" font-size="32.3" text-anchor="end" font-weight="normal">100</text>
<line x1="839.2" y1="505.6" x2="852.9" y2="505.6" stroke="#000" stroke-width="4.2" stroke-linecap="butt" />
<text transform="translate(834.8,515.86)" font-size="32.3" text-anchor="end" font-weight="normal">80</text>
<line x1="839.2" y1="567.8" x2="852.9" y2="567.8" stroke="#000" stroke-width="4.2" stroke-linecap="butt" />
<text transform="translate(834.8,578.06)" font-size="32.3" text-anchor="end" font-weight="normal">60</text>
<line x1="839.2" y1="630" x2="852.9" y2="630" stroke="#000" stroke-width="4.2" stroke-linecap="butt" />
<text transform="translate(834.8,640.26)" font-size="32.3" text-anchor="end" font-weight="normal">40</text>
<line x1="839.2" y1="692.2" x2="852.9" y2="692.2" stroke="#000" stroke-width="4.2" stroke-linecap="butt" />
<text transform="translate(834.8,702.46)" font-size="32.3" text-anchor="end" font-weight="normal">20</text>
<text transform="translate(834.8,766.26)" font-size="32.3" text-anchor="end" font-weight="normal">0</text>
<line x1="895.6" y1="756" x2="895.6" y2="768" stroke="#000" stroke-width="4.9" stroke-linecap="butt" />
<text transform="translate(895.6,798) scale(1.03,1.0)" font-size="30.8" text-anchor="middle" font-weight="normal">5</text>
<line x1="982.9" y1="756" x2="982.9" y2="768" stroke="#000" stroke-width="4.9" stroke-linecap="butt" />
<text transform="translate(982.9,798) scale(1.03,1.0)" font-size="30.8" text-anchor="middle" font-weight="normal">5-A</text>
<line x1="1070.2" y1="756" x2="1070.2" y2="768" stroke="#000" stroke-width="4.9" stroke-linecap="butt" />
<text transform="translate(1070.2,798) scale(1.03,1.0)" font-size="30.8" text-anchor="middle" font-weight="normal">5-B</text>
<line x1="1157.5" y1="756" x2="1157.5" y2="768" stroke="#000" stroke-width="4.9" stroke-linecap="butt" />
<text transform="translate(1157.5,798) scale(1.03,1.0)" font-size="30.8" text-anchor="middle" font-weight="normal">5-C</text>
<line x1="1244.8" y1="756" x2="1244.8" y2="768" stroke="#000" stroke-width="4.9" stroke-linecap="butt" />
<text transform="translate(1244.8,798) scale(1.03,1.0)" font-size="30.8" text-anchor="middle" font-weight="normal">5-N</text>
<line x1="1332.1" y1="756" x2="1332.1" y2="768" stroke="#000" stroke-width="4.9" stroke-linecap="butt" />
<text transform="translate(1332.1,798) scale(1.03,1.0)" font-size="30.8" text-anchor="middle" font-weight="normal">5-P</text>
<text transform="translate(756.2,600.5) rotate(-90) scale(1.0,1.09)" font-size="28.75" text-anchor="middle" font-weight="bold" letter-spacing="0.4">MESP1<tspan font-size="21.27" dy="-10.35">+</tspan><tspan dy="10.35"> cells (%)</tspan></text>
<rect x="136.8" y="924.9" width="66.8" height="242.7" fill="#fff"/>
<line x1="139.07" y1="924.9" x2="139.07" y2="1167.6" stroke="#000" stroke-width="4.55" stroke-linecap="butt" />
<line x1="201.32" y1="924.9" x2="201.32" y2="1167.6" stroke="#000" stroke-width="4.55" stroke-linecap="butt" />
<line x1="136.8" y1="927" x2="203.6" y2="927" stroke="#000" stroke-width="4.2" stroke-linecap="butt" />
<rect x="243.45" y="1082.7" width="66.8" height="84.9" fill="#fff"/>
<line x1="245.73" y1="1082.7" x2="245.73" y2="1167.6" stroke="#000" stroke-width="4.55" stroke-linecap="butt" />
<line x1="307.98" y1="1082.7" x2="307.98" y2="1167.6" stroke="#000" stroke-width="4.55" stroke-linecap="butt" />
<line x1="243.45" y1="1084.8" x2="310.25" y2="1084.8" stroke="#000" stroke-width="4.2" stroke-linecap="butt" />
<rect x="350.1" y="1083.8" width="66.8" height="83.8" fill="#fff"/>
<line x1="352.38" y1="1083.8" x2="352.38" y2="1167.6" stroke="#000" stroke-width="4.55" stroke-linecap="butt" />
<line x1="414.62" y1="1083.8" x2="414.62" y2="1167.6" stroke="#000" stroke-width="4.55" stroke-linecap="butt" />
<line x1="350.1" y1="1085.9" x2="416.9" y2="1085.9" stroke="#000" stroke-width="4.2" stroke-linecap="butt" />
<rect x="456.75" y="1050.9" width="66.8" height="116.7" fill="#fff"/>
<line x1="459.03" y1="1050.9" x2="459.03" y2="1167.6" stroke="#000" stroke-width="4.55" stroke-linecap="butt" />
<line x1="521.28" y1="1050.9" x2="521.28" y2="1167.6" stroke="#000" stroke-width="4.55" stroke-linecap="butt" />
<line x1="456.75" y1="1053" x2="523.55" y2="1053" stroke="#000" stroke-width="4.2" stroke-linecap="butt" />
<rect x="563.4" y="943.8" width="66.8" height="223.8" fill="#fff"/>
<line x1="565.67" y1="943.8" x2="565.67" y2="1167.6" stroke="#000" stroke-width="4.55" stroke-linecap="butt" />
<line x1="627.92" y1="943.8" x2="627.92" y2="1167.6" stroke="#000" stroke-width="4.55" stroke-linecap="butt" />
<line x1="563.4" y1="945.9" x2="630.2" y2="945.9" stroke="#000" stroke-width="4.2" stroke-linecap="butt" />
<line x1="170" y1="896.7" x2="170" y2="956.3" stroke="#000" stroke-width="4.3" stroke-linecap="butt" />
<line x1="154.5" y1="896.7" x2="185.5" y2="896.7" stroke="#000" stroke-width="4.1" stroke-linecap="butt" />
<line x1="154.5" y1="956.3" x2="185.5" y2="956.3" stroke="#000" stroke-width="4.1" stroke-linecap="butt" />
<line x1="276.7" y1="1031.1" x2="276.7" y2="1137.1" stroke="#000" stroke-width="4.3" stroke-linecap="butt" />
<line x1="261.2" y1="1031.1" x2="292.2" y2="1031.1" stroke="#000" stroke-width="4.1" stroke-linecap="butt" />
<line x1="261.2" y1="1137.1" x2="292.2" y2="1137.1" stroke="#000" stroke-width="4.1" stroke-linecap="butt" />
<line x1="383.6" y1="1076.8" x2="383.6" y2="1094.5" stroke="#000" stroke-width="4.3" stroke-linecap="butt" />
<line x1="368.1" y1="1076.8" x2="399.1" y2="1076.8" stroke="#000" stroke-width="4.1" stroke-linecap="butt" />
<line x1="368.1" y1="1094.5" x2="399.1" y2="1094.5" stroke="#000" stroke-width="4.1" stroke-linecap="butt" />
<line x1="490.3" y1="980.9" x2="490.3" y2="1124.8" stroke="#000" stroke-width="4.3" stroke-linecap="butt" />
<line x1="474.8" y1="980.9" x2="505.8" y2="980.9" stroke="#000" stroke-width="4.1" stroke-linecap="butt" />
<line x1="474.8" y1="1124.8" x2="505.8" y2="1124.8" stroke="#000" stroke-width="4.1" stroke-linecap="butt" />
<line x1="597.4" y1="922.4" x2="597.4" y2="968.3" stroke="#000" stroke-width="4.3" stroke-linecap="butt" />
<line x1="581.9" y1="922.4" x2="612.9" y2="922.4" stroke="#000" stroke-width="4.1" stroke-linecap="butt" />
<line x1="581.9" y1="968.3" x2="612.9" y2="968.3" stroke="#000" stroke-width="4.1" stroke-linecap="butt" />
<ellipse cx="148.9" cy="891.1" rx="7.45" ry="6.25" fill="none" stroke="#000" stroke-width="4.45"/>
<ellipse cx="181.1" cy="890" rx="7.45" ry="6.25" fill="none" stroke="#000" stroke-width="4.45"/>
<ellipse cx="159.3" cy="907.8" rx="7.45" ry="6.25" fill="none" stroke="#000" stroke-width="4.45"/>
<ellipse cx="181.1" cy="912.2" rx="7.45" ry="6.25" fill="none" stroke="#000" stroke-width="4.45"/>
<ellipse cx="146.7" cy="947.8" rx="7.45" ry="6.25" fill="none" stroke="#000" stroke-width="4.45"/>
<ellipse cx="194" cy="947.8" rx="7.45" ry="6.25" fill="none" stroke="#000" stroke-width="4.45"/>
<ellipse cx="178.2" cy="956" rx="7.45" ry="6.25" fill="none" stroke="#000" stroke-width="4.45"/>
<ellipse cx="162.2" cy="962.2" rx="7.45" ry="6.25" fill="none" stroke="#000" stroke-width="4.45"/>
<ellipse cx="276.7" cy="1031.1" rx="7.45" ry="6.25" fill="none" stroke="#000" stroke-width="4.45"/>
<ellipse cx="276.7" cy="1084.9" rx="7.45" ry="6.25" fill="none" stroke="#000" stroke-width="4.45"/>
<ellipse cx="276.7" cy="1136.7" rx="7.45" ry="6.25" fill="none" stroke="#000" stroke-width="4.45"/>
<ellipse cx="362.9" cy="1076.8" rx="7.45" ry="6.25" fill="none" stroke="#000" stroke-width="4.45"/>
<ellipse cx="404.7" cy="1084.2" rx="7.45" ry="6.25" fill="none" stroke="#000" stroke-width="4.45"/>
<ellipse cx="383.6" cy="1094.5" rx="7.45" ry="6.25" fill="none" stroke="#000" stroke-width="4.45"/>
<ellipse cx="490.3" cy="977.5" rx="7.45" ry="6.25" fill="none" stroke="#000" stroke-width="4.45"/>
<ellipse cx="490.3" cy="1060.5" rx="7.45" ry="6.25" fill="none" stroke="#000" stroke-width="4.45"/>
<ellipse cx="490.3" cy="1120.9" rx="7.45" ry="6.25" fill="none" stroke="#000" stroke-width="4.45"/>
<ellipse cx="576.8" cy="915.6" rx="7.45" ry="6.25" fill="none" stroke="#000" stroke-width="4.45"/>
<ellipse cx="618" cy="923.1" rx="7.45" ry="6.25" fill="none" stroke="#000" stroke-width="4.45"/>
<ellipse cx="597.4" cy="933.2" rx="7.45" ry="6.25" fill="none" stroke="#000" stroke-width="4.45"/>
<ellipse cx="586.6" cy="947" rx="7.45" ry="6.25" fill="none" stroke="#000" stroke-width="4.45"/>
<ellipse cx="618.7" cy="956.9" rx="7.45" ry="6.25" fill="none" stroke="#000" stroke-width="4.45"/>
<ellipse cx="608" cy="966" rx="7.45" ry="6.25" fill="none" stroke="#000" stroke-width="4.45"/>
<ellipse cx="586.6" cy="977.5" rx="7.45" ry="6.25" fill="none" stroke="#000" stroke-width="4.45"/>
<line x1="157.3" y1="839.3" x2="388.2" y2="839.3" stroke="#000" stroke-width="4.2" stroke-linecap="butt" />
<line x1="157.3" y1="851.8" x2="272.9" y2="851.8" stroke="#000" stroke-width="4.2" stroke-linecap="butt" />
<text transform="translate(275.6,843.9) scale(1.03,1.0)" font-size="40" text-anchor="middle" font-weight="normal">*</text>
<line x1="116.4" y1="855.2" x2="116.4" y2="1169.7" stroke="#000" stroke-width="4.5" stroke-linecap="butt" />
<line x1="102.7" y1="1167.6" x2="653.1" y2="1167.6" stroke="#000" stroke-width="4.2" stroke-linecap="butt" />
<line x1="102.7" y1="857.3" x2="116.4" y2="857.3" stroke="#000" stroke-width="4.2" stroke-linecap="butt" />
<text transform="translate(98.3,867.11)" font-size="31.3" text-anchor="end" font-weight="normal">20</text>
<line x1="102.7" y1="935.1" x2="116.4" y2="935.1" stroke="#000" stroke-width="4.2" stroke-linecap="butt" />
<text transform="translate(98.3,944.91)" font-size="31.3" text-anchor="end" font-weight="normal">15</text>
<line x1="102.7" y1="1012.4" x2="116.4" y2="1012.4" stroke="#000" stroke-width="4.2" stroke-linecap="butt" />
<text transform="translate(98.3,1022.21)" font-size="31.3" text-anchor="end" font-weight="normal">10</text>
<line x1="102.7" y1="1090" x2="116.4" y2="1090" stroke="#000" stroke-width="4.2" stroke-linecap="butt" />
<text transform="translate(98.3,1099.81)" font-size="31.3" text-anchor="end" font-weight="normal">5</text>
<text transform="translate(98.3,1177.41)" font-size="31.3" text-anchor="end" font-weight="normal">0</text>
<line x1="170.2" y1="1167.6" x2="170.2" y2="1180.2" stroke="#000" stroke-width="4.9" stroke-linecap="butt" />
<text transform="translate(170.2,1210.3) scale(1.06,1.0)" font-size="30.3" text-anchor="middle" font-weight="normal">4</text>
<line x1="276.85" y1="1167.6" x2="276.85" y2="1180.2" stroke="#000" stroke-width="4.9" stroke-linecap="butt" />
<text transform="translate(276.85,1210.3) scale(1.06,1.0)" font-size="30.3" text-anchor="middle" font-weight="normal">4-A</text>
<line x1="383.5" y1="1167.6" x2="383.5" y2="1180.2" stroke="#000" stroke-width="4.9" stroke-linecap="butt" />
<text transform="translate(383.5,1210.3) scale(1.06,1.0)" font-size="30.3" text-anchor="middle" font-weight="normal">4-B</text>
<line x1="490.15" y1="1167.6" x2="490.15" y2="1180.2" stroke="#000" stroke-width="4.9" stroke-linecap="butt" />
<text transform="translate(490.15,1210.3) scale(1.06,1.0)" font-size="30.3" text-anchor="middle" font-weight="normal">4-C</text>
<line x1="596.8" y1="1167.6" x2="596.8" y2="1180.2" stroke="#000" stroke-width="4.9" stroke-linecap="butt" />
<text transform="translate(596.8,1210.3) scale(1.06,1.0)" font-size="30.3" text-anchor="middle" font-weight="normal">4-P</text>
<text transform="translate(26.6,1009.3) rotate(-90) scale(1.0,1.02)" font-size="28.75" text-anchor="middle" font-weight="bold" letter-spacing="0.45">Expansion fold</text>
<text transform="translate(0,833.5) scale(1.05,1.0)" font-size="51" text-anchor="start" font-weight="bold">c</text>
<rect x="866.7" y="908.4" width="65.2" height="264.9" fill="#fff"/>
<line x1="868.97" y1="908.4" x2="868.97" y2="1173.3" stroke="#000" stroke-width="4.55" stroke-linecap="butt" />
<line x1="929.62" y1="908.4" x2="929.62" y2="1173.3" stroke="#000" stroke-width="4.55" stroke-linecap="butt" />
<line x1="866.7" y1="910.5" x2="931.9" y2="910.5" stroke="#000" stroke-width="4.2" stroke-linecap="butt" />
<rect x="971.3" y="957.3" width="65.2" height="216" fill="#fff"/>
<line x1="973.57" y1="957.3" x2="973.57" y2="1173.3" stroke="#000" stroke-width="4.55" stroke-linecap="butt" />
<line x1="1034.22" y1="957.3" x2="1034.22" y2="1173.3" stroke="#000" stroke-width="4.55" stroke-linecap="butt" />
<line x1="971.3" y1="959.4" x2="1036.5" y2="959.4" stroke="#000" stroke-width="4.2" stroke-linecap="butt" />
<rect x="1075.9" y="1039.6" width="65.2" height="133.7" fill="#fff"/>
<line x1="1078.18" y1="1039.6" x2="1078.18" y2="1173.3" stroke="#000" stroke-width="4.55" stroke-linecap="butt" />
<line x1="1138.82" y1="1039.6" x2="1138.82" y2="1173.3" stroke="#000" stroke-width="4.55" stroke-linecap="butt" />
<line x1="1075.9" y1="1041.7" x2="1141.1" y2="1041.7" stroke="#000" stroke-width="4.2" stroke-linecap="butt" />
<rect x="1180.5" y="1064" width="65.2" height="109.3" fill="#fff"/>
<line x1="1182.78" y1="1064" x2="1182.78" y2="1173.3" stroke="#000" stroke-width="4.55" stroke-linecap="butt" />
<line x1="1243.42" y1="1064" x2="1243.42" y2="1173.3" stroke="#000" stroke-width="4.55" stroke-linecap="butt" />
<line x1="1180.5" y1="1066.1" x2="1245.7" y2="1066.1" stroke="#000" stroke-width="4.2" stroke-linecap="butt" />
<rect x="1285.1" y="916" width="65.2" height="257.3" fill="#fff"/>
<line x1="1287.38" y1="916" x2="1287.38" y2="1173.3" stroke="#000" stroke-width="4.55" stroke-linecap="butt" />
<line x1="1348.02" y1="916" x2="1348.02" y2="1173.3" stroke="#000" stroke-width="4.55" stroke-linecap="butt" />
<line x1="1285.1" y1="918.1" x2="1350.3" y2="918.1" stroke="#000" stroke-width="4.2" stroke-linecap="butt" />
<line x1="899.3" y1="900.4" x2="899.3" y2="919.3" stroke="#000" stroke-width="4.3" stroke-linecap="butt" />
<line x1="884.3" y1="900.4" x2="914.3" y2="900.4" stroke="#000" stroke-width="4.1" stroke-linecap="butt" />
<line x1="884.3" y1="919.3" x2="914.3" y2="919.3" stroke="#000" stroke-width="4.1" stroke-linecap="butt" />
<line x1="1004.4" y1="945.1" x2="1004.4" y2="972.2" stroke="#000" stroke-width="4.3" stroke-linecap="butt" />
<line x1="989.4" y1="945.1" x2="1019.4" y2="945.1" stroke="#000" stroke-width="4.1" stroke-linecap="butt" />
<line x1="989.4" y1="972.2" x2="1019.4" y2="972.2" stroke="#000" stroke-width="4.1" stroke-linecap="butt" />
<line x1="1108.3" y1="986.7" x2="1108.3" y2="1095.6" stroke="#000" stroke-width="4.3" stroke-linecap="butt" />
<line x1="1093.3" y1="986.7" x2="1123.3" y2="986.7" stroke="#000" stroke-width="4.1" stroke-linecap="butt" />
<line x1="1093.3" y1="1095.6" x2="1123.3" y2="1095.6" stroke="#000" stroke-width="4.1" stroke-linecap="butt" />
<line x1="1212.8" y1="1058.2" x2="1212.8" y2="1072.9" stroke="#000" stroke-width="4.3" stroke-linecap="butt" />
<line x1="1197.8" y1="1058.2" x2="1227.8" y2="1058.2" stroke="#000" stroke-width="4.1" stroke-linecap="butt" />
<line x1="1197.8" y1="1072.9" x2="1227.8" y2="1072.9" stroke="#000" stroke-width="4.1" stroke-linecap="butt" />
<line x1="1317.2" y1="904" x2="1317.2" y2="930.7" stroke="#000" stroke-width="4.3" stroke-linecap="butt" />
<line x1="1302.2" y1="904" x2="1332.2" y2="904" stroke="#000" stroke-width="4.1" stroke-linecap="butt" />
<line x1="1302.2" y1="930.7" x2="1332.2" y2="930.7" stroke="#000" stroke-width="4.1" stroke-linecap="butt" />
<ellipse cx="879.3" cy="901.8" rx="7.2" ry="6.5" fill="none" stroke="#000" stroke-width="4.35"/>
<ellipse cx="889.6" cy="903.3" rx="7.2" ry="6.5" fill="none" stroke="#000" stroke-width="4.35"/>
<ellipse cx="920" cy="902.7" rx="7.2" ry="6.5" fill="none" stroke="#000" stroke-width="4.35"/>
<ellipse cx="910" cy="918.9" rx="7.2" ry="6.5" fill="none" stroke="#000" stroke-width="4.35"/>
<ellipse cx="899.3" cy="921.1" rx="7.2" ry="6.5" fill="none" stroke="#000" stroke-width="4.35"/>
<ellipse cx="1003.8" cy="947.1" rx="7.2" ry="6.5" fill="none" stroke="#000" stroke-width="4.35"/>
<ellipse cx="1014.9" cy="955.1" rx="7.2" ry="6.5" fill="none" stroke="#000" stroke-width="4.35"/>
<ellipse cx="993.3" cy="973.3" rx="7.2" ry="6.5" fill="none" stroke="#000" stroke-width="4.35"/>
<ellipse cx="1108.3" cy="988.9" rx="7.2" ry="6.5" fill="none" stroke="#000" stroke-width="4.35"/>
<ellipse cx="1108.3" cy="1036.7" rx="7.2" ry="6.5" fill="none" stroke="#000" stroke-width="4.35"/>
<ellipse cx="1108.3" cy="1097.8" rx="7.2" ry="6.5" fill="none" stroke="#000" stroke-width="4.35"/>
<ellipse cx="1192.8" cy="1056.7" rx="7.2" ry="6.5" fill="none" stroke="#000" stroke-width="4.35"/>
<ellipse cx="1233.4" cy="1068.4" rx="7.2" ry="6.5" fill="none" stroke="#000" stroke-width="4.35"/>
<ellipse cx="1212.8" cy="1071.1" rx="7.2" ry="6.5" fill="none" stroke="#000" stroke-width="4.35"/>
<ellipse cx="1317.2" cy="900.4" rx="7.2" ry="6.5" fill="none" stroke="#000" stroke-width="4.35"/>
<ellipse cx="1297.2" cy="914.4" rx="7.2" ry="6.5" fill="none" stroke="#000" stroke-width="4.35"/>
<ellipse cx="1337.7" cy="924.4" rx="7.2" ry="6.5" fill="none" stroke="#000" stroke-width="4.35"/>
<ellipse cx="1317.2" cy="930.7" rx="7.2" ry="6.5" fill="none" stroke="#000" stroke-width="4.35"/>
<line x1="899.3" y1="857.3" x2="1005.6" y2="857.3" stroke="#000" stroke-width="4.2" stroke-linecap="butt" />
<line x1="899.3" y1="870" x2="1107.3" y2="870" stroke="#000" stroke-width="4.2" stroke-linecap="butt" />
<line x1="899.3" y1="885.1" x2="1212.1" y2="885.1" stroke="#000" stroke-width="4.2" stroke-linecap="butt" />
<text transform="translate(958.2,861.2) scale(1.03,1.0)" font-size="40" text-anchor="middle" font-weight="normal">*</text>
<text transform="translate(1054.4,875.6) scale(1.03,1.0)" font-size="40" text-anchor="middle" font-weight="normal">*</text>
<text transform="translate(1165,886.8) scale(1.03,1.0)" font-size="40" text-anchor="middle" font-weight="normal">**</text>
<line x1="847.5" y1="848.3" x2="847.5" y2="1175.4" stroke="#000" stroke-width="4.5" stroke-linecap="butt" />
<line x1="833.8" y1="1173.3" x2="1371.7" y2="1173.3" stroke="#000" stroke-width="4.2" stroke-linecap="butt" />
<line x1="833.8" y1="850.4" x2="847.5" y2="850.4" stroke="#000" stroke-width="4.2" stroke-linecap="butt" />
<text transform="translate(829,860.31) scale(0.965,1.0)" font-size="33" text-anchor="end" font-weight="normal">100</text>
<line x1="833.8" y1="915.1" x2="847.5" y2="915.1" stroke="#000" stroke-width="4.2" stroke-linecap="butt" />
<text transform="translate(829,925.01) scale(0.965,1.0)" font-size="33" text-anchor="end" font-weight="normal">80</text>
<line x1="833.8" y1="979.6" x2="847.5" y2="979.6" stroke="#000" stroke-width="4.2" stroke-linecap="butt" />
<text transform="translate(829,989.51) scale(0.965,1.0)" font-size="33" text-anchor="end" font-weight="normal">60</text>
<line x1="833.8" y1="1044" x2="847.5" y2="1044" stroke="#000" stroke-width="4.2" stroke-linecap="butt" />
<text transform="translate(829,1053.91) scale(0.965,1.0)" font-size="33" text-anchor="end" font-weight="normal">40</text>
<line x1="833.8" y1="1108.4" x2="847.5" y2="1108.4" stroke="#000" stroke-width="4.2" stroke-linecap="butt" />
<text transform="translate(829,1118.31) scale(0.965,1.0)" font-size="33" text-anchor="end" font-weight="normal">20</text>
<text transform="translate(829,1183.21) scale(0.965,1.0)" font-size="33" text-anchor="end" font-weight="normal">0</text>
<line x1="899.3" y1="1173.3" x2="899.3" y2="1185.9" stroke="#000" stroke-width="4.9" stroke-linecap="butt" />
<text transform="translate(899.3,1216) scale(1.03,1.0)" font-size="30.8" text-anchor="middle" font-weight="normal">4</text>
<line x1="1003.9" y1="1173.3" x2="1003.9" y2="1185.9" stroke="#000" stroke-width="4.9" stroke-linecap="butt" />
<text transform="translate(1003.9,1216) scale(1.03,1.0)" font-size="30.8" text-anchor="middle" font-weight="normal">4-A</text>
<line x1="1108.5" y1="1173.3" x2="1108.5" y2="1185.9" stroke="#000" stroke-width="4.9" stroke-linecap="butt" />
<text transform="translate(1108.5,1216) scale(1.03,1.0)" font-size="30.8" text-anchor="middle" font-weight="normal">4-B</text>
<line x1="1213.1" y1="1173.3" x2="1213.1" y2="1185.9" stroke="#000" stroke-width="4.9" stroke-linecap="butt" />
<text transform="translate(1213.1,1216) scale(1.03,1.0)" font-size="30.8" text-anchor="middle" font-weight="normal">4-C</text>
<line x1="1317.7" y1="1173.3" x2="1317.7" y2="1185.9" stroke="#000" stroke-width="4.9" stroke-linecap="butt" />
<text transform="translate(1317.7,1216) scale(1.03,1.0)" font-size="30.8" text-anchor="middle" font-weight="normal">4-P</text>
<text transform="translate(757.2,1012) rotate(-90) scale(1.0,1.068)" font-size="29.35" text-anchor="middle" font-weight="bold" letter-spacing="0.4">MESP1<tspan font-size="21.72" dy="-10.57">+</tspan><tspan dy="10.57"> cells (%)</tspan></text>
<rect x="140.7" y="1344.4" width="82.6" height="223.9" fill="#fff"/>
<line x1="142.97" y1="1344.4" x2="142.97" y2="1568.3" stroke="#000" stroke-width="4.55" stroke-linecap="butt" />
<line x1="221.03" y1="1344.4" x2="221.03" y2="1568.3" stroke="#000" stroke-width="4.55" stroke-linecap="butt" />
<line x1="140.7" y1="1346.5" x2="223.3" y2="1346.5" stroke="#000" stroke-width="4.2" stroke-linecap="butt" />
<rect x="273.45" y="1381.1" width="82.6" height="187.2" fill="#fff"/>
<line x1="275.72" y1="1381.1" x2="275.72" y2="1568.3" stroke="#000" stroke-width="4.55" stroke-linecap="butt" />
<line x1="353.78" y1="1381.1" x2="353.78" y2="1568.3" stroke="#000" stroke-width="4.55" stroke-linecap="butt" />
<line x1="273.45" y1="1383.2" x2="356.05" y2="1383.2" stroke="#000" stroke-width="4.2" stroke-linecap="butt" />
<rect x="406.2" y="1475.6" width="82.6" height="92.7" fill="#fff"/>
<line x1="408.47" y1="1475.6" x2="408.47" y2="1568.3" stroke="#000" stroke-width="4.55" stroke-linecap="butt" />
<line x1="486.53" y1="1475.6" x2="486.53" y2="1568.3" stroke="#000" stroke-width="4.55" stroke-linecap="butt" />
<line x1="406.2" y1="1477.7" x2="488.8" y2="1477.7" stroke="#000" stroke-width="4.2" stroke-linecap="butt" />
<rect x="538.95" y="1458.2" width="82.6" height="110.1" fill="#fff"/>
<line x1="541.23" y1="1458.2" x2="541.23" y2="1568.3" stroke="#000" stroke-width="4.55" stroke-linecap="butt" />
<line x1="619.27" y1="1458.2" x2="619.27" y2="1568.3" stroke="#000" stroke-width="4.55" stroke-linecap="butt" />
<line x1="538.95" y1="1460.3" x2="621.55" y2="1460.3" stroke="#000" stroke-width="4.2" stroke-linecap="butt" />
<line x1="181.8" y1="1323.3" x2="181.8" y2="1368.9" stroke="#000" stroke-width="4.3" stroke-linecap="butt" />
<line x1="162.8" y1="1323.3" x2="200.8" y2="1323.3" stroke="#000" stroke-width="4.1" stroke-linecap="butt" />
<line x1="162.8" y1="1368.9" x2="200.8" y2="1368.9" stroke="#000" stroke-width="4.1" stroke-linecap="butt" />
<line x1="314.9" y1="1340" x2="314.9" y2="1425.6" stroke="#000" stroke-width="4.3" stroke-linecap="butt" />
<line x1="295.9" y1="1340" x2="333.9" y2="1340" stroke="#000" stroke-width="4.1" stroke-linecap="butt" />
<line x1="295.9" y1="1425.6" x2="333.9" y2="1425.6" stroke="#000" stroke-width="4.1" stroke-linecap="butt" />
<line x1="447.8" y1="1444.9" x2="447.8" y2="1507.8" stroke="#000" stroke-width="4.3" stroke-linecap="butt" />
<line x1="428.8" y1="1444.9" x2="466.8" y2="1444.9" stroke="#000" stroke-width="4.1" stroke-linecap="butt" />
<line x1="428.8" y1="1507.8" x2="466.8" y2="1507.8" stroke="#000" stroke-width="4.1" stroke-linecap="butt" />
<line x1="580.7" y1="1427.3" x2="580.7" y2="1491.8" stroke="#000" stroke-width="4.3" stroke-linecap="butt" />
<line x1="561.7" y1="1427.3" x2="599.7" y2="1427.3" stroke="#000" stroke-width="4.1" stroke-linecap="butt" />
<line x1="561.7" y1="1491.8" x2="599.7" y2="1491.8" stroke="#000" stroke-width="4.1" stroke-linecap="butt" />
<ellipse cx="160.7" cy="1316.7" rx="7.45" ry="6.25" fill="none" stroke="#000" stroke-width="4.45"/>
<ellipse cx="203.8" cy="1324.4" rx="7.45" ry="6.25" fill="none" stroke="#000" stroke-width="4.45"/>
<ellipse cx="181.8" cy="1334" rx="7.45" ry="6.25" fill="none" stroke="#000" stroke-width="4.45"/>
<ellipse cx="170.4" cy="1347.8" rx="7.45" ry="6.25" fill="none" stroke="#000" stroke-width="4.45"/>
<ellipse cx="203.8" cy="1358.9" rx="7.45" ry="6.25" fill="none" stroke="#000" stroke-width="4.45"/>
<ellipse cx="192.7" cy="1366.7" rx="7.45" ry="6.25" fill="none" stroke="#000" stroke-width="4.45"/>
<ellipse cx="171.1" cy="1378.4" rx="7.45" ry="6.25" fill="none" stroke="#000" stroke-width="4.45"/>
<ellipse cx="304" cy="1332.2" rx="7.45" ry="6.25" fill="none" stroke="#000" stroke-width="4.45"/>
<ellipse cx="336.7" cy="1345.1" rx="7.45" ry="6.25" fill="none" stroke="#000" stroke-width="4.45"/>
<ellipse cx="325.6" cy="1356.7" rx="7.45" ry="6.25" fill="none" stroke="#000" stroke-width="4.45"/>
<ellipse cx="304" cy="1371.8" rx="7.45" ry="6.25" fill="none" stroke="#000" stroke-width="4.45"/>
<ellipse cx="314.9" cy="1408.9" rx="7.45" ry="6.25" fill="none" stroke="#000" stroke-width="4.45"/>
<ellipse cx="326" cy="1425.1" rx="7.45" ry="6.25" fill="none" stroke="#000" stroke-width="4.45"/>
<ellipse cx="304" cy="1441.1" rx="7.45" ry="6.25" fill="none" stroke="#000" stroke-width="4.45"/>
<ellipse cx="447.8" cy="1430.7" rx="7.45" ry="6.25" fill="none" stroke="#000" stroke-width="4.45"/>
<ellipse cx="458.9" cy="1456" rx="7.45" ry="6.25" fill="none" stroke="#000" stroke-width="4.45"/>
<ellipse cx="437.3" cy="1464" rx="7.45" ry="6.25" fill="none" stroke="#000" stroke-width="4.45"/>
<ellipse cx="447.8" cy="1489.3" rx="7.45" ry="6.25" fill="none" stroke="#000" stroke-width="4.45"/>
<ellipse cx="458.9" cy="1506.2" rx="7.45" ry="6.25" fill="none" stroke="#000" stroke-width="4.45"/>
<ellipse cx="437.3" cy="1514.4" rx="7.45" ry="6.25" fill="none" stroke="#000" stroke-width="4.45"/>
<ellipse cx="602.2" cy="1428.9" rx="7.45" ry="6.25" fill="none" stroke="#000" stroke-width="4.45"/>
<ellipse cx="558.9" cy="1436.7" rx="7.45" ry="6.25" fill="none" stroke="#000" stroke-width="4.45"/>
<ellipse cx="580.7" cy="1439.6" rx="7.45" ry="6.25" fill="none" stroke="#000" stroke-width="4.45"/>
<ellipse cx="580.7" cy="1461.8" rx="7.45" ry="6.25" fill="none" stroke="#000" stroke-width="4.45"/>
<ellipse cx="580.7" cy="1485.6" rx="7.45" ry="6.25" fill="none" stroke="#000" stroke-width="4.45"/>
<ellipse cx="580.7" cy="1509.3" rx="7.45" ry="6.25" fill="none" stroke="#000" stroke-width="4.45"/>
<line x1="181.1" y1="1294.9" x2="448.1" y2="1294.9" stroke="#000" stroke-width="4.2" stroke-linecap="butt" />
<text transform="translate(318.9,1298.6) scale(1.03,1.0)" font-size="40" text-anchor="middle" font-weight="normal">*</text>
<line x1="115.8" y1="1256.8" x2="115.8" y2="1570.4" stroke="#000" stroke-width="4.5" stroke-linecap="butt" />
<line x1="102.1" y1="1568.3" x2="650.7" y2="1568.3" stroke="#000" stroke-width="4.2" stroke-linecap="butt" />
<line x1="102.1" y1="1258.9" x2="115.8" y2="1258.9" stroke="#000" stroke-width="4.2" stroke-linecap="butt" />
<text transform="translate(97.7,1268.71)" font-size="31.3" text-anchor="end" font-weight="normal">20</text>
<line x1="102.1" y1="1336.2" x2="115.8" y2="1336.2" stroke="#000" stroke-width="4.2" stroke-linecap="butt" />
<text transform="translate(97.7,1346.01)" font-size="31.3" text-anchor="end" font-weight="normal">15</text>
<line x1="102.1" y1="1413.3" x2="115.8" y2="1413.3" stroke="#000" stroke-width="4.2" stroke-linecap="butt" />
<text transform="translate(97.7,1423.11)" font-size="31.3" text-anchor="end" font-weight="normal">10</text>
<line x1="102.1" y1="1490.4" x2="115.8" y2="1490.4" stroke="#000" stroke-width="4.2" stroke-linecap="butt" />
<text transform="translate(97.7,1500.21)" font-size="31.3" text-anchor="end" font-weight="normal">5</text>
<text transform="translate(97.7,1578.11)" font-size="31.3" text-anchor="end" font-weight="normal">0</text>
<line x1="182" y1="1568.3" x2="182" y2="1580.9" stroke="#000" stroke-width="4.9" stroke-linecap="butt" />
<text transform="translate(182,1609.8) scale(1.05,1.0)" font-size="30.3" text-anchor="middle" font-weight="normal">3</text>
<line x1="314.75" y1="1568.3" x2="314.75" y2="1580.9" stroke="#000" stroke-width="4.9" stroke-linecap="butt" />
<text transform="translate(314.75,1609.8) scale(1.05,1.0)" font-size="30.3" text-anchor="middle" font-weight="normal">3-A</text>
<line x1="447.5" y1="1568.3" x2="447.5" y2="1580.9" stroke="#000" stroke-width="4.9" stroke-linecap="butt" />
<text transform="translate(447.5,1609.8) scale(1.05,1.0)" font-size="30.3" text-anchor="middle" font-weight="normal">3-B</text>
<line x1="580.25" y1="1568.3" x2="580.25" y2="1580.9" stroke="#000" stroke-width="4.9" stroke-linecap="butt" />
<text transform="translate(580.25,1609.8) scale(1.05,1.0)" font-size="30.3" text-anchor="middle" font-weight="normal">3-C</text>
<text transform="translate(27.5,1412) rotate(-90) scale(1.0,1.02)" font-size="28.75" text-anchor="middle" font-weight="bold" letter-spacing="0.45">Expansion fold</text>
<text transform="translate(-1.5,1251.5) scale(1.05,1.0)" font-size="51" text-anchor="start" font-weight="bold">d</text>
<rect x="870.1" y="1315.6" width="78.6" height="254.4" fill="#fff"/>
<line x1="872.38" y1="1315.6" x2="872.38" y2="1570" stroke="#000" stroke-width="4.55" stroke-linecap="butt" />
<line x1="946.42" y1="1315.6" x2="946.42" y2="1570" stroke="#000" stroke-width="4.55" stroke-linecap="butt" />
<line x1="870.1" y1="1317.7" x2="948.7" y2="1317.7" stroke="#000" stroke-width="4.2" stroke-linecap="butt" />
<rect x="996.3" y="1364.9" width="78.6" height="205.1" fill="#fff"/>
<line x1="998.57" y1="1364.9" x2="998.57" y2="1570" stroke="#000" stroke-width="4.55" stroke-linecap="butt" />
<line x1="1072.62" y1="1364.9" x2="1072.62" y2="1570" stroke="#000" stroke-width="4.55" stroke-linecap="butt" />
<line x1="996.3" y1="1367" x2="1074.9" y2="1367" stroke="#000" stroke-width="4.2" stroke-linecap="butt" />
<rect x="1122.5" y="1370.7" width="78.6" height="199.3" fill="#fff"/>
<line x1="1124.78" y1="1370.7" x2="1124.78" y2="1570" stroke="#000" stroke-width="4.55" stroke-linecap="butt" />
<line x1="1198.82" y1="1370.7" x2="1198.82" y2="1570" stroke="#000" stroke-width="4.55" stroke-linecap="butt" />
<line x1="1122.5" y1="1372.8" x2="1201.1" y2="1372.8" stroke="#000" stroke-width="4.2" stroke-linecap="butt" />
<rect x="1248.7" y="1391.1" width="78.6" height="178.9" fill="#fff"/>
<line x1="1250.98" y1="1391.1" x2="1250.98" y2="1570" stroke="#000" stroke-width="4.55" stroke-linecap="butt" />
<line x1="1325.02" y1="1391.1" x2="1325.02" y2="1570" stroke="#000" stroke-width="4.55" stroke-linecap="butt" />
<line x1="1248.7" y1="1393.2" x2="1327.3" y2="1393.2" stroke="#000" stroke-width="4.2" stroke-linecap="butt" />
<line x1="909.3" y1="1303.8" x2="909.3" y2="1331.1" stroke="#000" stroke-width="4.3" stroke-linecap="butt" />
<line x1="891.2" y1="1303.8" x2="927.4" y2="1303.8" stroke="#000" stroke-width="4.1" stroke-linecap="butt" />
<line x1="891.2" y1="1331.1" x2="927.4" y2="1331.1" stroke="#000" stroke-width="4.1" stroke-linecap="butt" />
<line x1="1035.6" y1="1336.2" x2="1035.6" y2="1397.1" stroke="#000" stroke-width="4.3" stroke-linecap="butt" />
<line x1="1017.5" y1="1336.2" x2="1053.7" y2="1336.2" stroke="#000" stroke-width="4.1" stroke-linecap="butt" />
<line x1="1017.5" y1="1397.1" x2="1053.7" y2="1397.1" stroke="#000" stroke-width="4.1" stroke-linecap="butt" />
<line x1="1161.7" y1="1354.4" x2="1161.7" y2="1390.4" stroke="#000" stroke-width="4.3" stroke-linecap="butt" />
<line x1="1143.6" y1="1354.4" x2="1179.8" y2="1354.4" stroke="#000" stroke-width="4.1" stroke-linecap="butt" />
<line x1="1143.6" y1="1390.4" x2="1179.8" y2="1390.4" stroke="#000" stroke-width="4.1" stroke-linecap="butt" />
<line x1="1287.9" y1="1376.7" x2="1287.9" y2="1408.9" stroke="#000" stroke-width="4.3" stroke-linecap="butt" />
<line x1="1269.8" y1="1376.7" x2="1306" y2="1376.7" stroke="#000" stroke-width="4.1" stroke-linecap="butt" />
<line x1="1269.8" y1="1408.9" x2="1306" y2="1408.9" stroke="#000" stroke-width="4.1" stroke-linecap="butt" />
<ellipse cx="909.3" cy="1300.7" rx="7.2" ry="6.5" fill="none" stroke="#000" stroke-width="4.35"/>
<ellipse cx="889.3" cy="1314.9" rx="7.2" ry="6.5" fill="none" stroke="#000" stroke-width="4.35"/>
<ellipse cx="930" cy="1324.4" rx="7.2" ry="6.5" fill="none" stroke="#000" stroke-width="4.35"/>
<ellipse cx="909.3" cy="1330" rx="7.2" ry="6.5" fill="none" stroke="#000" stroke-width="4.35"/>
<ellipse cx="1035.6" cy="1340.7" rx="7.2" ry="6.5" fill="none" stroke="#000" stroke-width="4.35"/>
<ellipse cx="1025.1" cy="1354.9" rx="7.2" ry="6.5" fill="none" stroke="#000" stroke-width="4.35"/>
<ellipse cx="1046" cy="1361.1" rx="7.2" ry="6.5" fill="none" stroke="#000" stroke-width="4.35"/>
<ellipse cx="1035.6" cy="1410.4" rx="7.2" ry="6.5" fill="none" stroke="#000" stroke-width="4.35"/>
<ellipse cx="1161.7" cy="1352.7" rx="7.2" ry="6.5" fill="none" stroke="#000" stroke-width="4.35"/>
<ellipse cx="1172.3" cy="1377.1" rx="7.2" ry="6.5" fill="none" stroke="#000" stroke-width="4.35"/>
<ellipse cx="1151.2" cy="1388.2" rx="7.2" ry="6.5" fill="none" stroke="#000" stroke-width="4.35"/>
<ellipse cx="1287.9" cy="1381.1" rx="7.2" ry="6.5" fill="none" stroke="#000" stroke-width="4.35"/>
<ellipse cx="1287.9" cy="1403.8" rx="7.2" ry="6.5" fill="none" stroke="#000" stroke-width="4.35"/>
<line x1="905.1" y1="1278.2" x2="1287.5" y2="1278.2" stroke="#000" stroke-width="4.2" stroke-linecap="butt" />
<text transform="translate(1096,1280.6) scale(1.03,1.0)" font-size="40" text-anchor="middle" font-weight="normal">*</text>
<line x1="846.9" y1="1249" x2="846.9" y2="1572.1" stroke="#000" stroke-width="4.5" stroke-linecap="butt" />
<line x1="833.2" y1="1570" x2="1354.3" y2="1570" stroke="#000" stroke-width="4.2" stroke-linecap="butt" />
<line x1="833.2" y1="1251.1" x2="846.9" y2="1251.1" stroke="#000" stroke-width="4.2" stroke-linecap="butt" />
<text transform="translate(829.2,1260.81) scale(0.94,1.0)" font-size="33" text-anchor="end" font-weight="normal">100</text>
<line x1="833.2" y1="1314.9" x2="846.9" y2="1314.9" stroke="#000" stroke-width="4.2" stroke-linecap="butt" />
<text transform="translate(829.2,1324.61) scale(0.94,1.0)" font-size="33" text-anchor="end" font-weight="normal">80</text>
<line x1="833.2" y1="1378.5" x2="846.9" y2="1378.5" stroke="#000" stroke-width="4.2" stroke-linecap="butt" />
<text transform="translate(829.2,1388.21) scale(0.94,1.0)" font-size="33" text-anchor="end" font-weight="normal">60</text>
<line x1="833.2" y1="1442.2" x2="846.9" y2="1442.2" stroke="#000" stroke-width="4.2" stroke-linecap="butt" />
<text transform="translate(829.2,1451.91) scale(0.94,1.0)" font-size="33" text-anchor="end" font-weight="normal">40</text>
<line x1="833.2" y1="1506" x2="846.9" y2="1506" stroke="#000" stroke-width="4.2" stroke-linecap="butt" />
<text transform="translate(829.2,1515.71) scale(0.94,1.0)" font-size="33" text-anchor="end" font-weight="normal">20</text>
<text transform="translate(829.2,1579.71) scale(0.94,1.0)" font-size="33" text-anchor="end" font-weight="normal">0</text>
<line x1="909.4" y1="1570" x2="909.4" y2="1582.6" stroke="#000" stroke-width="4.9" stroke-linecap="butt" />
<text transform="translate(909.4,1612.8) scale(0.985,1.0)" font-size="30.5" text-anchor="middle" font-weight="normal">3</text>
<line x1="1035.6" y1="1570" x2="1035.6" y2="1582.6" stroke="#000" stroke-width="4.9" stroke-linecap="butt" />
<text transform="translate(1035.6,1612.8) scale(0.985,1.0)" font-size="30.5" text-anchor="middle" font-weight="normal">3-A</text>
<line x1="1161.8" y1="1570" x2="1161.8" y2="1582.6" stroke="#000" stroke-width="4.9" stroke-linecap="butt" />
<text transform="translate(1161.8,1612.8) scale(0.985,1.0)" font-size="30.5" text-anchor="middle" font-weight="normal">3-B</text>
<line x1="1288" y1="1570" x2="1288" y2="1582.6" stroke="#000" stroke-width="4.9" stroke-linecap="butt" />
<text transform="translate(1288,1612.8) scale(0.985,1.0)" font-size="30.5" text-anchor="middle" font-weight="normal">3-C</text>
<text transform="translate(759.2,1411.5) rotate(-90) scale(1.0,1.068)" font-size="29.35" text-anchor="middle" font-weight="bold" letter-spacing="0.4">MESP1<tspan font-size="21.72" dy="-10.57">+</tspan><tspan dy="10.57"> cells (%)</tspan></text>
<line x1="136.1" y1="1626.6" x2="1390" y2="1626.6" stroke="#000" stroke-width="4.4" stroke-linecap="butt" />
<polyline points="1367.8,1613.6 1391.3,1626.7 1367.8,1640.0" fill="none" stroke="#000" stroke-width="4.4" stroke-linecap="round" stroke-linejoin="miter"/>
<text transform="translate(702.2,1671.4) scale(1.05,1.0)" font-size="31.5" text-anchor="middle" font-weight="normal">Chemical cocktail</text>
<rect x="134.9" y="1788.4" width="64" height="244.1" fill="#fff"/>
<line x1="137.18" y1="1788.4" x2="137.18" y2="2032.5" stroke="#000" stroke-width="4.55" stroke-linecap="butt" />
<line x1="196.62" y1="1788.4" x2="196.62" y2="2032.5" stroke="#000" stroke-width="4.55" stroke-linecap="butt" />
<line x1="134.9" y1="1790.5" x2="198.9" y2="1790.5" stroke="#000" stroke-width="4.2" stroke-linecap="butt" />
<rect x="236.5" y="1799.6" width="64" height="232.9" fill="#fff"/>
<line x1="238.78" y1="1799.6" x2="238.78" y2="2032.5" stroke="#000" stroke-width="4.55" stroke-linecap="butt" />
<line x1="298.23" y1="1799.6" x2="298.23" y2="2032.5" stroke="#000" stroke-width="4.55" stroke-linecap="butt" />
<line x1="236.5" y1="1801.7" x2="300.5" y2="1801.7" stroke="#000" stroke-width="4.2" stroke-linecap="butt" />
<rect x="338.1" y="1907.4" width="64" height="125.1" fill="#fff"/>
<line x1="340.38" y1="1907.4" x2="340.38" y2="2032.5" stroke="#000" stroke-width="4.55" stroke-linecap="butt" />
<line x1="399.83" y1="1907.4" x2="399.83" y2="2032.5" stroke="#000" stroke-width="4.55" stroke-linecap="butt" />
<line x1="338.1" y1="1909.5" x2="402.1" y2="1909.5" stroke="#000" stroke-width="4.2" stroke-linecap="butt" />
<rect x="439.7" y="1922.7" width="64" height="109.8" fill="#fff"/>
<line x1="441.97" y1="1922.7" x2="441.97" y2="2032.5" stroke="#000" stroke-width="4.55" stroke-linecap="butt" />
<line x1="501.42" y1="1922.7" x2="501.42" y2="2032.5" stroke="#000" stroke-width="4.55" stroke-linecap="butt" />
<line x1="439.7" y1="1924.8" x2="503.7" y2="1924.8" stroke="#000" stroke-width="4.2" stroke-linecap="butt" />
<rect x="541.3" y="1868.9" width="64" height="163.6" fill="#fff"/>
<line x1="543.57" y1="1868.9" x2="543.57" y2="2032.5" stroke="#000" stroke-width="4.55" stroke-linecap="butt" />
<line x1="603.02" y1="1868.9" x2="603.02" y2="2032.5" stroke="#000" stroke-width="4.55" stroke-linecap="butt" />
<line x1="541.3" y1="1871" x2="605.3" y2="1871" stroke="#000" stroke-width="4.2" stroke-linecap="butt" />
<line x1="166.7" y1="1772.9" x2="166.7" y2="1807.8" stroke="#000" stroke-width="4.3" stroke-linecap="butt" />
<line x1="152.2" y1="1772.9" x2="181.2" y2="1772.9" stroke="#000" stroke-width="4.1" stroke-linecap="butt" />
<line x1="152.2" y1="1807.8" x2="181.2" y2="1807.8" stroke="#000" stroke-width="4.1" stroke-linecap="butt" />
<line x1="268.9" y1="1784.4" x2="268.9" y2="1818.9" stroke="#000" stroke-width="4.3" stroke-linecap="butt" />
<line x1="254.4" y1="1784.4" x2="283.4" y2="1784.4" stroke="#000" stroke-width="4.1" stroke-linecap="butt" />
<line x1="254.4" y1="1818.9" x2="283.4" y2="1818.9" stroke="#000" stroke-width="4.1" stroke-linecap="butt" />
<line x1="370" y1="1895.6" x2="370" y2="1918.9" stroke="#000" stroke-width="4.3" stroke-linecap="butt" />
<line x1="355.5" y1="1895.6" x2="384.5" y2="1895.6" stroke="#000" stroke-width="4.1" stroke-linecap="butt" />
<line x1="355.5" y1="1918.9" x2="384.5" y2="1918.9" stroke="#000" stroke-width="4.1" stroke-linecap="butt" />
<line x1="471.6" y1="1918.9" x2="471.6" y2="1934" stroke="#000" stroke-width="4.3" stroke-linecap="butt" />
<line x1="457.1" y1="1918.9" x2="486.1" y2="1918.9" stroke="#000" stroke-width="4.1" stroke-linecap="butt" />
<line x1="457.1" y1="1934" x2="486.1" y2="1934" stroke="#000" stroke-width="4.1" stroke-linecap="butt" />
<line x1="573.3" y1="1848.9" x2="573.3" y2="1892.9" stroke="#000" stroke-width="4.3" stroke-linecap="butt" />
<line x1="558.8" y1="1848.9" x2="587.8" y2="1848.9" stroke="#000" stroke-width="4.1" stroke-linecap="butt" />
<line x1="558.8" y1="1892.9" x2="587.8" y2="1892.9" stroke="#000" stroke-width="4.1" stroke-linecap="butt" />
<ellipse cx="187.1" cy="1774.9" rx="6.75" ry="6" fill="none" stroke="#000" stroke-width="4.45"/>
<ellipse cx="147.3" cy="1782.2" rx="6.75" ry="6" fill="none" stroke="#000" stroke-width="4.45"/>
<ellipse cx="166.7" cy="1790.7" rx="6.75" ry="6" fill="none" stroke="#000" stroke-width="4.45"/>
<ellipse cx="166.7" cy="1814.4" rx="6.75" ry="6" fill="none" stroke="#000" stroke-width="4.45"/>
<ellipse cx="258.2" cy="1785.6" rx="6.75" ry="6" fill="none" stroke="#000" stroke-width="4.45"/>
<ellipse cx="278.4" cy="1790" rx="6.75" ry="6" fill="none" stroke="#000" stroke-width="4.45"/>
<ellipse cx="278.4" cy="1810" rx="6.75" ry="6" fill="none" stroke="#000" stroke-width="4.45"/>
<ellipse cx="258.2" cy="1821.1" rx="6.75" ry="6" fill="none" stroke="#000" stroke-width="4.45"/>
<ellipse cx="360" cy="1894.4" rx="6.75" ry="6" fill="none" stroke="#000" stroke-width="4.45"/>
<ellipse cx="380" cy="1895.1" rx="6.75" ry="6" fill="none" stroke="#000" stroke-width="4.45"/>
<ellipse cx="392.9" cy="1910" rx="6.75" ry="6" fill="none" stroke="#000" stroke-width="4.45"/>
<ellipse cx="347.1" cy="1916.7" rx="6.75" ry="6" fill="none" stroke="#000" stroke-width="4.45"/>
<ellipse cx="362.2" cy="1921.1" rx="6.75" ry="6" fill="none" stroke="#000" stroke-width="4.45"/>
<ellipse cx="377.8" cy="1918.9" rx="6.75" ry="6" fill="none" stroke="#000" stroke-width="4.45"/>
<ellipse cx="461.8" cy="1915.1" rx="6.75" ry="6" fill="none" stroke="#000" stroke-width="4.45"/>
<ellipse cx="481.8" cy="1916.7" rx="6.75" ry="6" fill="none" stroke="#000" stroke-width="4.45"/>
<ellipse cx="451.6" cy="1923.3" rx="6.75" ry="6" fill="none" stroke="#000" stroke-width="4.45"/>
<ellipse cx="491.6" cy="1927.1" rx="6.75" ry="6" fill="none" stroke="#000" stroke-width="4.45"/>
<ellipse cx="471.1" cy="1940" rx="6.75" ry="6" fill="none" stroke="#000" stroke-width="4.45"/>
<ellipse cx="562.9" cy="1850" rx="6.75" ry="6" fill="none" stroke="#000" stroke-width="4.45"/>
<ellipse cx="583.3" cy="1855.1" rx="6.75" ry="6" fill="none" stroke="#000" stroke-width="4.45"/>
<ellipse cx="583.3" cy="1882.7" rx="6.75" ry="6" fill="none" stroke="#000" stroke-width="4.45"/>
<ellipse cx="562.9" cy="1894.4" rx="6.75" ry="6" fill="none" stroke="#000" stroke-width="4.45"/>
<line x1="166" y1="1742.2" x2="475.7" y2="1742.2" stroke="#000" stroke-width="4.2" stroke-linecap="butt" />
<line x1="267.3" y1="1764.6" x2="475.7" y2="1764.6" stroke="#000" stroke-width="4.2" stroke-linecap="butt" />
<line x1="472.8" y1="1787" x2="571.1" y2="1787" stroke="#000" stroke-width="4.2" stroke-linecap="butt" />
<text transform="translate(408,1739.4) scale(1.03,1.0)" font-size="40" text-anchor="middle" font-weight="normal">*</text>
<line x1="116.1" y1="1716.1" x2="116.1" y2="2034.6" stroke="#000" stroke-width="4.5" stroke-linecap="butt" />
<line x1="102.4" y1="2032.5" x2="626.7" y2="2032.5" stroke="#000" stroke-width="4.2" stroke-linecap="butt" />
<line x1="102.4" y1="1718.2" x2="116.1" y2="1718.2" stroke="#000" stroke-width="4.2" stroke-linecap="butt" />
<text transform="translate(99.1,1728.48)" font-size="31.5" text-anchor="end" font-weight="normal">60</text>
<line x1="102.4" y1="1822.8" x2="116.1" y2="1822.8" stroke="#000" stroke-width="4.2" stroke-linecap="butt" />
<text transform="translate(99.1,1833.08)" font-size="31.5" text-anchor="end" font-weight="normal">40</text>
<line x1="102.4" y1="1927.8" x2="116.1" y2="1927.8" stroke="#000" stroke-width="4.2" stroke-linecap="butt" />
<text transform="translate(99.1,1938.08)" font-size="31.5" text-anchor="end" font-weight="normal">20</text>
<text transform="translate(99.1,2042.78)" font-size="31.5" text-anchor="end" font-weight="normal">0</text>
<line x1="166.9" y1="2032.5" x2="166.9" y2="2045.8" stroke="#000" stroke-width="4.9" stroke-linecap="butt" />
<text transform="translate(166.9,2075.9) scale(1.02,1.0)" font-size="30.3" text-anchor="middle" font-weight="normal">7</text>
<line x1="268.5" y1="2032.5" x2="268.5" y2="2045.8" stroke="#000" stroke-width="4.9" stroke-linecap="butt" />
<text transform="translate(268.5,2075.9) scale(1.02,1.0)" font-size="30.3" text-anchor="middle" font-weight="normal">5</text>
<line x1="370.1" y1="2032.5" x2="370.1" y2="2045.8" stroke="#000" stroke-width="4.9" stroke-linecap="butt" />
<text transform="translate(370.1,2075.9) scale(1.02,1.0)" font-size="30.3" text-anchor="middle" font-weight="normal">4</text>
<line x1="471.7" y1="2032.5" x2="471.7" y2="2045.8" stroke="#000" stroke-width="4.9" stroke-linecap="butt" />
<text transform="translate(471.7,2075.9) scale(1.02,1.0)" font-size="30.3" text-anchor="middle" font-weight="normal">3</text>
<line x1="573.3" y1="2032.5" x2="573.3" y2="2045.8" stroke="#000" stroke-width="4.9" stroke-linecap="butt" />
<text transform="translate(573.3,2075.9) scale(1.02,1.0)" font-size="30.3" text-anchor="middle" font-weight="normal">2</text>
<text transform="translate(39,1878.3) rotate(-90) scale(1.0,1.045)" font-size="29.75" text-anchor="middle" font-weight="bold" letter-spacing="0.45">Doubling time (h)</text>
<text transform="translate(371,2128.2) scale(1.06,1.0)" font-size="28" text-anchor="middle" font-weight="bold" letter-spacing="1.4">Chemical cocktail</text>
<text transform="translate(-2,1732.4) scale(1.05,1.0)" font-size="51" text-anchor="start" font-weight="bold">e</text>
<line x1="837.5" y1="1738.85" x2="837.5" y2="2024.45" stroke="#000" stroke-width="4.4" stroke-linecap="butt" />
<line x1="827.8" y1="2022.4" x2="1334.2" y2="2022.4" stroke="#000" stroke-width="4.1" stroke-linecap="butt" />
<line x1="827.8" y1="1740.9" x2="837.5" y2="1740.9" stroke="#000" stroke-width="4.2" stroke-linecap="butt" />
<text transform="translate(812.5,1751.1) scale(0.96,1.0)" font-size="31.3" text-anchor="end" font-weight="normal">450</text>
<line x1="827.8" y1="1834.8" x2="837.5" y2="1834.8" stroke="#000" stroke-width="4.2" stroke-linecap="butt" />
<text transform="translate(812.5,1845) scale(0.96,1.0)" font-size="31.3" text-anchor="end" font-weight="normal">300</text>
<line x1="827.8" y1="1928.7" x2="837.5" y2="1928.7" stroke="#000" stroke-width="4.2" stroke-linecap="butt" />
<text transform="translate(812.5,1938.9) scale(0.96,1.0)" font-size="31.3" text-anchor="end" font-weight="normal">150</text>
<text transform="translate(812.5,2032.6) scale(0.96,1.0)" font-size="31.3" text-anchor="end" font-weight="normal">0</text>
<line x1="837.6" y1="2022.4" x2="837.6" y2="2031" stroke="#000" stroke-width="4.1" stroke-linecap="butt" />
<text transform="translate(836.3,2067.5) scale(0.94,1.0)" font-size="30" text-anchor="middle" font-weight="normal">P1</text>
<line x1="1084.5" y1="2022.4" x2="1084.5" y2="2031" stroke="#000" stroke-width="4.1" stroke-linecap="butt" />
<text transform="translate(1086.2,2067.5) scale(0.94,1.0)" font-size="30" text-anchor="middle" font-weight="normal">P2</text>
<line x1="1332.2" y1="2022.4" x2="1332.2" y2="2031" stroke="#000" stroke-width="4.1" stroke-linecap="butt" />
<text transform="translate(1334.3,2067.5) scale(0.94,1.0)" font-size="30" text-anchor="middle" font-weight="normal">P3</text>
<polyline points="837.6,2021.4 1084.4,2018.3 1332.2,2014.1" fill="none" stroke="#000" stroke-width="4.2" stroke-linecap="round" stroke-linejoin="round" stroke-dasharray="28 17.2 0.01 17.2 0.01 17.2"/>
<polyline points="837.6,2021.2 1084.4,2016.4 1332.2,2001.6" fill="none" stroke="#000" stroke-width="4.0" stroke-linecap="round" stroke-linejoin="round" stroke-dasharray="0.01 8.4"/>
<polyline points="837.6,2021.6 1085.3,2001.5 1332.2,1809.6" fill="none" stroke="#262626" stroke-width="4.2" stroke-linecap="round" stroke-linejoin="round" stroke-dasharray="29.1 16.6"/>
<polyline points="837.6,2021 1084.4,1994.1 1332.2,1808.7" fill="none" stroke="#262626" stroke-width="4.0" stroke-linecap="round" stroke-linejoin="round"/>
<polyline points="837.6,2020.6 1084.4,1988.8 1332.2,1923.6" fill="none" stroke="#000" stroke-width="4.2" stroke-linecap="round" stroke-linejoin="round" stroke-dasharray="8.3 8.4"/>
<polyline points="891.9,1749.2 988.5,1749.2" fill="none" stroke="#000" stroke-width="4.2" stroke-linecap="round" stroke-linejoin="round" stroke-dasharray="28 17.2 0.01 17.2 0.01 17.2"/>
<polyline points="1064.8,1749.4 1157.6,1749.4" fill="none" stroke="#000" stroke-width="4.0" stroke-linecap="round" stroke-linejoin="round" stroke-dasharray="0.01 8.4"/>
<polyline points="1236.8,1749.4 1329,1749.4" fill="none" stroke="#262626" stroke-width="4.2" stroke-linecap="round" stroke-linejoin="round" stroke-dasharray="28.6 17.2"/>
<polyline points="893.7,1792.1 988,1792.1" fill="none" stroke="#2b2b2b" stroke-width="3.9" stroke-linecap="round" stroke-linejoin="round"/>
<polyline points="1065,1792.2 1157,1792.2" fill="none" stroke="#000" stroke-width="4.2" stroke-linecap="round" stroke-linejoin="round" stroke-dasharray="8.3 8.4"/>
<text transform="translate(999,1759.2) scale(0.95,1.0)" font-size="30" text-anchor="start" font-weight="normal">7</text>
<text transform="translate(1169.8,1759.2) scale(0.95,1.0)" font-size="30" text-anchor="start" font-weight="normal">5</text>
<text transform="translate(1340.5,1759.2) scale(0.95,1.0)" font-size="30" text-anchor="start" font-weight="normal">4</text>
<text transform="translate(999,1802.2) scale(0.95,1.0)" font-size="30" text-anchor="start" font-weight="normal">3</text>
<text transform="translate(1169.8,1802.2) scale(0.95,1.0)" font-size="30" text-anchor="start" font-weight="normal">2</text>
<text transform="translate(748.2,1892.2) rotate(-90) scale(1.0,0.975)" font-size="33.8" text-anchor="middle" font-weight="normal">Total cell # (x10<tspan font-size="20" dy="-11.5">6</tspan><tspan dy="11.5">)</tspan></text>
<text transform="translate(1082,2136) scale(1.04,1.0)" font-size="32.5" text-anchor="middle" font-weight="normal">Passage number</text>
<text transform="translate(718.3,1731.4) scale(1.13,1.0)" font-size="50.5" text-anchor="start" font-weight="bold">f</text>
</svg>
</body></html>
